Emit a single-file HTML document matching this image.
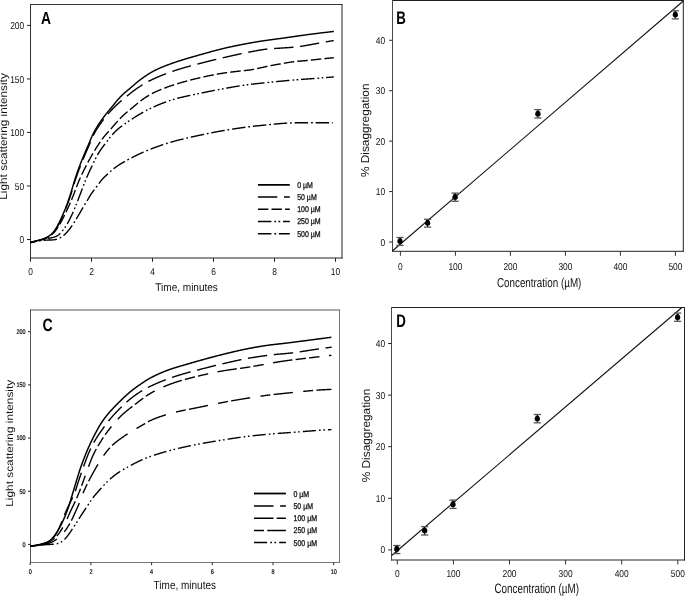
<!DOCTYPE html>
<html><head><meta charset="utf-8"><style>
html,body{margin:0;padding:0;background:#fff;}
svg{display:block;font-family:"Liberation Sans", sans-serif;filter:grayscale(100%);text-rendering:geometricPrecision;}
</style></head><body>
<svg width="685" height="596" viewBox="0 0 685 596">
<rect width="685" height="596" fill="#fff"/>
<line x1="30.5" y1="4.5" x2="342" y2="4.5" stroke="#3a3a3a" stroke-width="1" stroke-linecap="square"/>
<line x1="342" y1="4.5" x2="342" y2="258" stroke="#222" stroke-width="1" stroke-linecap="square"/>
<line x1="30.5" y1="258" x2="342" y2="258" stroke="#222" stroke-width="1" stroke-linecap="square"/>
<line x1="30.5" y1="4.5" x2="30.5" y2="258" stroke="#333" stroke-width="1" stroke-linecap="square"/>
<line x1="27" y1="239.5" x2="30.5" y2="239.5" stroke="#222" stroke-width="1" />
<text transform="translate(24.2 243.1) scale(0.84 1)" font-size="10.0" text-anchor="end" font-weight="normal" fill="#111" >0</text>
<line x1="27" y1="185.975" x2="30.5" y2="185.975" stroke="#222" stroke-width="1" />
<text transform="translate(24.2 189.575) scale(0.84 1)" font-size="10.0" text-anchor="end" font-weight="normal" fill="#111" >50</text>
<line x1="27" y1="132.45" x2="30.5" y2="132.45" stroke="#222" stroke-width="1" />
<text transform="translate(24.2 136.04999999999998) scale(0.84 1)" font-size="10.0" text-anchor="end" font-weight="normal" fill="#111" >100</text>
<line x1="27" y1="78.92500000000001" x2="30.5" y2="78.92500000000001" stroke="#222" stroke-width="1" />
<text transform="translate(24.2 82.525) scale(0.84 1)" font-size="10.0" text-anchor="end" font-weight="normal" fill="#111" >150</text>
<line x1="27" y1="25.400000000000006" x2="30.5" y2="25.400000000000006" stroke="#222" stroke-width="1" />
<text transform="translate(24.2 29.000000000000007) scale(0.84 1)" font-size="10.0" text-anchor="end" font-weight="normal" fill="#111" >200</text>
<line x1="30.5" y1="258" x2="30.5" y2="261.8" stroke="#222" stroke-width="1" />
<text transform="translate(30.5 275.3) scale(0.84 1)" font-size="10.0" text-anchor="middle" font-weight="normal" fill="#111" >0</text>
<line x1="91.5" y1="258" x2="91.5" y2="261.8" stroke="#222" stroke-width="1" />
<text transform="translate(91.5 275.3) scale(0.84 1)" font-size="10.0" text-anchor="middle" font-weight="normal" fill="#111" >2</text>
<line x1="152.5" y1="258" x2="152.5" y2="261.8" stroke="#222" stroke-width="1" />
<text transform="translate(152.5 275.3) scale(0.84 1)" font-size="10.0" text-anchor="middle" font-weight="normal" fill="#111" >4</text>
<line x1="213.5" y1="258" x2="213.5" y2="261.8" stroke="#222" stroke-width="1" />
<text transform="translate(213.5 275.3) scale(0.84 1)" font-size="10.0" text-anchor="middle" font-weight="normal" fill="#111" >6</text>
<line x1="274.5" y1="258" x2="274.5" y2="261.8" stroke="#222" stroke-width="1" />
<text transform="translate(274.5 275.3) scale(0.84 1)" font-size="10.0" text-anchor="middle" font-weight="normal" fill="#111" >8</text>
<line x1="335.5" y1="258" x2="335.5" y2="261.8" stroke="#222" stroke-width="1" />
<text transform="translate(335.5 275.3) scale(0.84 1)" font-size="10.0" text-anchor="middle" font-weight="normal" fill="#111" >10</text>
<text x="155.3" y="291.1" font-size="11.2" text-anchor="start" font-weight="normal" fill="#111" textLength="62.6" lengthAdjust="spacingAndGlyphs" >Time, minutes</text>
<text x="7.0" y="199.7" font-size="10.6" text-anchor="start" font-weight="normal" fill="#111" textLength="126.5" lengthAdjust="spacingAndGlyphs" transform="rotate(-90 7.0 199.7)" >Light scattering intensity</text>
<text x="41.0" y="23.8" font-size="17.5" text-anchor="start" font-weight="bold" fill="#000" textLength="10" lengthAdjust="spacingAndGlyphs" >A</text>
<line x1="257.9" y1="184.9" x2="289.8" y2="184.9" stroke="#000" stroke-width="1.8" />
<text x="297.2" y="187.8" font-size="8.4" text-anchor="start" font-weight="normal" fill="#111" textLength="15.7" lengthAdjust="spacingAndGlyphs" stroke="#111" stroke-width="0.3">0 µM</text>
<line x1="257.9" y1="197.1" x2="289.8" y2="197.1" stroke="#000" stroke-width="1.5" stroke-dasharray="19.4 6.7"/>
<text x="297.2" y="200.0" font-size="8.4" text-anchor="start" font-weight="normal" fill="#111" textLength="19.5" lengthAdjust="spacingAndGlyphs" stroke="#111" stroke-width="0.3">50 µM</text>
<line x1="257.9" y1="209.3" x2="289.8" y2="209.3" stroke="#000" stroke-width="1.5" stroke-dasharray="10.5 3.1"/>
<text x="297.2" y="212.20000000000002" font-size="8.4" text-anchor="start" font-weight="normal" fill="#111" textLength="23.5" lengthAdjust="spacingAndGlyphs" stroke="#111" stroke-width="0.3">100 µM</text>
<line x1="257.9" y1="221.4" x2="289.8" y2="221.4" stroke="#000" stroke-width="1.5" stroke-dasharray="13.5 3 1.7 2.4 1.7 2.8"/>
<text x="297.2" y="224.3" font-size="8.4" text-anchor="start" font-weight="normal" fill="#111" textLength="23.5" lengthAdjust="spacingAndGlyphs" stroke="#111" stroke-width="0.3">250 µM</text>
<line x1="257.9" y1="233.7" x2="289.8" y2="233.7" stroke="#000" stroke-width="1.5" stroke-dasharray="13.5 2.9 1.8 2.8"/>
<text x="297.2" y="236.6" font-size="8.4" text-anchor="start" font-weight="normal" fill="#111" textLength="23.5" lengthAdjust="spacingAndGlyphs" stroke="#111" stroke-width="0.3">500 µM</text>
<path d="M30.50,242.30 L31.73,241.99 L32.03,241.91 L32.36,241.83 L32.73,241.74 L33.12,241.64 L33.54,241.53 L33.98,241.42 L34.43,241.30 L34.90,241.19 L35.37,241.07 L35.84,240.95 L36.32,240.83 L36.80,240.70 L37.29,240.58 L37.77,240.46 L38.25,240.33 L38.74,240.20 L39.22,240.08 L39.70,239.94 L40.18,239.81 L40.66,239.67 L41.14,239.53 L41.62,239.39 L42.10,239.24 L42.57,239.08 L43.04,238.92 L43.51,238.75 L43.98,238.58 L44.44,238.39 L44.90,238.20 L45.36,238.01 L45.81,237.80 L46.26,237.58 L46.70,237.35 L47.14,237.12 L47.57,236.87 L48.00,236.62 L48.42,236.35 L48.83,236.08 L49.24,235.80 L49.64,235.50 L50.04,235.20 L50.42,234.89 L50.81,234.57 L51.18,234.25 L51.55,233.91 L51.91,233.57 L52.26,233.22 L52.61,232.86 L52.94,232.50 L53.27,232.12 L53.60,231.75 L53.91,231.36 L54.22,230.97 L54.52,230.57 L54.81,230.17 L55.10,229.76 L55.38,229.35 L55.65,228.93 L55.92,228.51 L56.18,228.09 L56.44,227.66 L56.69,227.23 L56.93,226.79 L57.18,226.36 L57.42,225.92 L57.65,225.48 L57.89,225.04 L58.12,224.60 L58.35,224.15 L58.58,223.71 L58.81,223.26 L59.04,222.82 L59.26,222.37 L59.48,221.92 L59.70,221.47 L59.92,221.02 L60.14,220.57 L60.36,220.12 L60.57,219.67 L60.78,219.22 L60.99,218.77 L61.20,218.31 L61.41,217.86 L61.62,217.40 L61.82,216.95 L62.03,216.49 L62.23,216.03 L62.43,215.58 L62.63,215.12 L62.83,214.66 L63.03,214.20 L63.23,213.74 L63.43,213.28 L63.62,212.82 L63.82,212.36 L64.01,211.90 L64.20,211.44 L64.39,210.98 L64.58,210.52 L64.77,210.05 L64.96,209.59 L65.15,209.13 L65.33,208.66 L65.52,208.20 L65.70,207.73 L65.88,207.27 L66.07,206.80 L66.25,206.33 L66.42,205.87 L66.60,205.40 L66.78,204.93 L66.95,204.46 L67.13,204.00 L67.30,203.53 L67.47,203.06 L67.64,202.59 L67.81,202.12 L67.98,201.65 L68.15,201.17 L68.31,200.70 L68.48,200.23 L68.64,199.76 L68.80,199.28 L68.96,198.81 L69.12,198.34 L69.28,197.86 L69.44,197.39 L69.60,196.91 L69.75,196.44 L69.91,195.96 L70.06,195.49 L70.21,195.01 L70.36,194.53 L70.51,194.06 L70.66,193.58 L70.81,193.10 L70.95,192.62 L71.10,192.14 L71.24,191.67 L71.38,191.19 L71.53,190.71 L71.67,190.23 L71.81,189.75 L71.95,189.27 L72.09,188.79 L72.23,188.31 L72.37,187.83 L72.51,187.35 L72.65,186.87 L72.79,186.39 L72.93,185.91 L73.07,185.43 L73.21,184.95 L73.35,184.47 L73.50,183.99 L73.64,183.51 L73.78,183.03 L73.93,182.55 L74.07,182.08 L74.22,181.60 L74.37,181.12 L74.52,180.64 L74.67,180.17 L74.82,179.69 L74.97,179.21 L75.12,178.74 L75.28,178.26 L75.43,177.79 L75.59,177.31 L75.75,176.84 L75.91,176.36 L76.07,175.89 L76.23,175.42 L76.39,174.94 L76.55,174.47 L76.71,174.00 L76.88,173.53 L77.04,173.05 L77.21,172.58 L77.38,172.11 L77.54,171.64 L77.71,171.17 L77.88,170.70 L78.05,170.23 L78.22,169.76 L78.39,169.29 L78.56,168.82 L78.73,168.35 L78.91,167.88 L79.08,167.41 L79.26,166.94 L79.43,166.47 L79.61,166.01 L79.78,165.54 L79.96,165.07 L80.14,164.60 L80.32,164.14 L80.50,163.67 L80.68,163.21 L80.86,162.74 L81.05,162.27 L81.23,161.81 L81.42,161.34 L81.60,160.88 L81.79,160.42 L81.97,159.95 L82.16,159.49 L82.35,159.03 L82.54,158.56 L82.73,158.10 L82.92,157.64 L83.11,157.18 L83.30,156.72 L83.50,156.25 L83.69,155.79 L83.88,155.33 L84.08,154.87 L84.27,154.41 L84.46,153.95 L84.66,153.49 L84.85,153.03 L85.05,152.57 L85.24,152.11 L85.44,151.65 L85.64,151.19 L85.83,150.73 L86.03,150.27 L86.23,149.81 L86.43,149.35 L86.63,148.89 L86.82,148.43 L87.02,147.97 L87.22,147.51 L87.42,147.06 L87.62,146.60 L87.82,146.14 L88.02,145.68 L88.21,145.22 L88.41,144.76 L88.61,144.30 L88.80,143.84 L89.00,143.38 L89.19,142.92 L89.38,142.46 L89.58,142.00 L89.77,141.53 L89.96,141.07 L90.15,140.61 L90.34,140.15 L90.53,139.68 L90.72,139.22 L90.91,138.76 L91.10,138.30 L91.30,137.84 L91.49,137.38 L91.69,136.92 L91.90,136.47 L92.10,136.01 L92.31,135.56 L92.52,135.10 L92.74,134.65 L92.96,134.20 L93.18,133.75 L93.40,133.31 L93.63,132.86 L93.86,132.42 L94.09,131.98 L94.33,131.54 L94.57,131.10 L94.81,130.66 L95.05,130.22 L95.29,129.79 L95.54,129.35 L95.79,128.92 L96.04,128.49 L96.30,128.06 L96.55,127.63 L96.81,127.20 L97.07,126.77 L97.33,126.35 L97.60,125.92 L97.86,125.50 L98.13,125.08 L98.40,124.65 L98.67,124.23 L98.94,123.82 L99.22,123.40 L99.50,122.98 L99.77,122.57 L100.06,122.16 L100.34,121.74 L100.62,121.33 L100.91,120.92 L101.20,120.52 L101.49,120.11 L101.78,119.70 L102.08,119.30 L102.37,118.89 L102.67,118.49 L102.96,118.09 L103.26,117.69 L103.56,117.29 L103.86,116.89 L104.17,116.49 L104.47,116.10 L104.78,115.70 L105.08,115.30 L105.39,114.91 L105.70,114.51 L106.00,114.12 L106.31,113.73 L106.63,113.34 L106.94,112.95 L107.25,112.56 L107.57,112.17 L107.88,111.78 L108.20,111.39 L108.52,111.01 L108.83,110.62 L109.15,110.24 L109.47,109.85 L109.79,109.47 L110.11,109.08 L110.43,108.70 L110.75,108.31 L111.07,107.93 L111.39,107.54 L111.71,107.16 L112.03,106.77 L112.34,106.39 L112.66,106.00 L112.98,105.62 L113.30,105.23 L113.61,104.84 L113.93,104.45 L114.24,104.07 L114.56,103.68 L114.88,103.29 L115.19,102.91 L115.51,102.52 L115.83,102.13 L116.15,101.75 L116.47,101.36 L116.79,100.98 L117.11,100.60 L117.43,100.21 L117.76,99.83 L118.08,99.46 L118.41,99.08 L118.74,98.70 L119.07,98.33 L119.41,97.96 L119.75,97.59 L120.09,97.23 L120.43,96.87 L120.78,96.51 L121.13,96.15 L121.48,95.80 L121.84,95.45 L122.20,95.10 L122.56,94.76 L122.92,94.41 L123.29,94.07 L123.66,93.74 L124.03,93.40 L124.41,93.07 L124.78,92.74 L125.16,92.41 L125.54,92.09 L125.92,91.76 L126.30,91.44 L126.68,91.12 L127.06,90.79 L127.45,90.47 L127.83,90.15 L128.21,89.83 L128.60,89.51 L128.98,89.19 L129.36,88.87 L129.74,88.54 L130.12,88.22 L130.51,87.90 L130.89,87.57 L131.27,87.25 L131.65,86.92 L132.02,86.60 L132.40,86.27 L132.78,85.94 L133.16,85.62 L133.54,85.29 L133.92,84.96 L134.30,84.64 L134.67,84.31 L135.05,83.98 L135.43,83.66 L135.81,83.34 L136.20,83.01 L136.58,82.69 L136.96,82.37 L137.35,82.05 L137.73,81.74 L138.12,81.42 L138.51,81.11 L138.90,80.80 L139.30,80.49 L139.69,80.18 L140.09,79.88 L140.49,79.58 L140.89,79.28 L141.29,78.98 L141.69,78.68 L142.10,78.39 L142.50,78.10 L142.91,77.81 L143.32,77.52 L143.73,77.24 L144.14,76.95 L144.55,76.67 L144.96,76.39 L145.38,76.11 L145.79,75.83 L146.21,75.55 L146.63,75.27 L147.04,75.00 L147.46,74.73 L147.88,74.46 L148.31,74.19 L148.73,73.92 L149.15,73.66 L149.58,73.40 L150.01,73.14 L150.44,72.88 L150.87,72.63 L151.30,72.37 L151.73,72.12 L152.16,71.88 L152.60,71.63 L153.04,71.39 L153.48,71.15 L153.92,70.92 L154.36,70.68 L154.80,70.45 L155.25,70.23 L155.70,70.00 L156.14,69.78 L156.59,69.56 L157.04,69.35 L157.49,69.13 L157.95,68.92 L158.40,68.71 L158.86,68.51 L159.31,68.30 L159.77,68.10 L160.23,67.90 L160.69,67.70 L161.15,67.51 L161.61,67.31 L162.07,67.12 L162.53,66.93 L162.99,66.74 L163.46,66.55 L163.92,66.37 L164.39,66.18 L164.85,66.00 L165.32,65.82 L165.78,65.64 L166.25,65.46 L166.72,65.28 L167.19,65.10 L167.65,64.93 L168.12,64.75 L168.59,64.58 L169.06,64.40 L169.53,64.23 L170.00,64.06 L170.47,63.89 L170.94,63.72 L171.41,63.55 L171.88,63.38 L172.35,63.22 L172.82,63.05 L173.30,62.89 L173.77,62.73 L174.24,62.56 L174.72,62.40 L175.19,62.24 L175.66,62.08 L176.14,61.93 L176.61,61.77 L177.09,61.61 L177.56,61.46 L178.04,61.30 L178.51,61.15 L178.99,60.99 L179.46,60.84 L179.94,60.69 L180.42,60.54 L180.89,60.39 L181.37,60.24 L181.85,60.09 L182.33,59.94 L182.80,59.79 L183.28,59.64 L183.76,59.49 L184.24,59.35 L184.71,59.20 L185.19,59.05 L185.67,58.91 L186.15,58.76 L186.63,58.62 L187.11,58.47 L187.59,58.33 L188.06,58.19 L188.54,58.05 L189.02,57.91 L189.50,57.76 L189.98,57.62 L190.46,57.49 L190.94,57.35 L191.42,57.21 L191.91,57.07 L192.39,56.93 L192.87,56.80 L193.35,56.66 L193.83,56.52 L194.31,56.39 L194.79,56.25 L195.27,56.12 L195.75,55.98 L196.24,55.85 L196.72,55.71 L197.20,55.58 L197.68,55.44 L198.16,55.31 L198.64,55.17 L199.13,55.04 L199.61,54.91 L200.09,54.77 L200.57,54.64 L201.05,54.50 L201.53,54.37 L202.01,54.23 L202.50,54.09 L202.98,53.96 L203.46,53.82 L203.94,53.69 L204.42,53.55 L204.90,53.42 L205.38,53.28 L205.86,53.14 L206.34,53.01 L206.83,52.87 L207.31,52.74 L207.79,52.60 L208.27,52.47 L208.75,52.33 L209.23,52.19 L209.71,52.06 L210.20,51.93 L210.68,51.79 L211.16,51.66 L211.64,51.52 L212.12,51.39 L212.60,51.26 L213.09,51.13 L213.57,50.99 L214.05,50.86 L214.53,50.73 L215.02,50.60 L215.50,50.47 L215.98,50.34 L216.47,50.21 L216.95,50.09 L217.43,49.96 L217.92,49.83 L218.40,49.71 L218.89,49.58 L219.37,49.46 L219.85,49.34 L220.34,49.22 L220.82,49.10 L221.31,48.98 L221.80,48.86 L222.28,48.74 L222.77,48.62 L223.25,48.51 L223.74,48.39 L224.23,48.28 L224.71,48.16 L225.20,48.05 L225.69,47.94 L226.18,47.83 L226.66,47.72 L227.15,47.61 L227.64,47.50 L228.13,47.39 L228.62,47.28 L229.10,47.17 L229.59,47.07 L230.08,46.96 L230.57,46.85 L231.06,46.75 L231.55,46.64 L232.04,46.54 L232.52,46.43 L233.01,46.33 L233.50,46.23 L233.99,46.13 L234.48,46.02 L234.97,45.92 L235.46,45.82 L235.95,45.72 L236.44,45.62 L236.93,45.52 L237.42,45.42 L237.91,45.32 L238.40,45.23 L238.89,45.13 L239.38,45.03 L239.87,44.93 L240.36,44.84 L240.85,44.74 L241.35,44.65 L241.84,44.55 L242.33,44.46 L242.82,44.36 L243.31,44.27 L243.80,44.18 L244.29,44.08 L244.78,43.99 L245.27,43.90 L245.77,43.80 L246.26,43.71 L246.75,43.62 L247.24,43.53 L247.73,43.44 L248.22,43.35 L248.72,43.26 L249.21,43.17 L249.70,43.08 L250.19,42.99 L250.68,42.91 L251.18,42.82 L251.67,42.73 L252.16,42.64 L252.65,42.56 L253.15,42.47 L253.64,42.39 L254.13,42.30 L254.62,42.22 L255.12,42.13 L255.61,42.05 L256.10,41.97 L256.60,41.88 L257.09,41.80 L257.58,41.72 L258.08,41.64 L258.57,41.56 L259.06,41.48 L259.56,41.40 L260.05,41.32 L260.54,41.24 L261.04,41.17 L261.53,41.09 L262.03,41.01 L262.52,40.94 L263.02,40.86 L263.51,40.79 L264.00,40.71 L264.50,40.64 L264.99,40.57 L265.49,40.49 L265.98,40.42 L266.48,40.35 L266.97,40.28 L267.47,40.21 L267.96,40.14 L268.46,40.08 L268.95,40.01 L269.45,39.94 L269.94,39.87 L270.44,39.81 L270.94,39.74 L271.43,39.67 L271.93,39.61 L272.42,39.54 L272.92,39.48 L273.41,39.41 L273.91,39.35 L274.41,39.28 L274.90,39.22 L275.40,39.15 L275.89,39.09 L276.39,39.02 L276.88,38.96 L277.38,38.89 L277.88,38.82 L278.37,38.76 L278.87,38.69 L279.36,38.63 L279.86,38.56 L280.35,38.49 L280.85,38.43 L281.34,38.36 L281.84,38.29 L282.34,38.22 L282.83,38.15 L283.33,38.08 L283.82,38.01 L284.32,37.94 L284.81,37.87 L285.31,37.80 L285.80,37.73 L286.30,37.66 L286.79,37.59 L287.29,37.52 L287.78,37.45 L288.28,37.38 L288.77,37.31 L289.27,37.23 L289.76,37.16 L290.25,37.09 L290.75,37.02 L291.24,36.95 L291.74,36.87 L292.23,36.80 L292.73,36.73 L293.22,36.66 L293.72,36.59 L294.21,36.51 L294.71,36.44 L295.20,36.37 L295.70,36.30 L296.19,36.23 L296.69,36.16 L297.18,36.08 L297.68,36.01 L298.17,35.94 L298.67,35.87 L299.16,35.80 L299.66,35.73 L300.15,35.66 L300.65,35.59 L301.14,35.52 L301.64,35.45 L302.13,35.38 L302.63,35.32 L303.12,35.25 L303.62,35.18 L304.11,35.11 L304.61,35.05 L305.11,34.98 L305.60,34.91 L306.10,34.85 L306.59,34.78 L307.09,34.72 L307.58,34.65 L308.08,34.59 L308.58,34.52 L309.07,34.46 L309.57,34.39 L310.06,34.33 L310.56,34.26 L311.05,34.20 L311.55,34.13 L312.05,34.07 L312.54,34.01 L313.04,33.94 L313.53,33.88 L314.03,33.82 L314.53,33.75 L315.02,33.69 L315.52,33.63 L316.01,33.57 L316.51,33.50 L317.01,33.44 L317.50,33.38 L318.00,33.32 L318.49,33.25 L318.99,33.19 L319.49,33.13 L319.98,33.07 L320.48,33.01 L320.98,32.95 L321.47,32.89 L321.97,32.83 L322.46,32.77 L322.96,32.71 L323.46,32.65 L323.95,32.59 L324.45,32.53 L324.95,32.47 L325.44,32.41 L325.94,32.35 L326.44,32.29 L326.93,32.23 L327.43,32.17 L327.92,32.11 L328.42,32.06 L328.91,32.00 L329.40,31.94 L329.89,31.88 L330.37,31.83 L330.85,31.77 L331.31,31.72 L331.76,31.67 L332.19,31.62 L332.59,31.57 L332.97,31.53 L333.31,31.49 L333.62,31.46 L333.89,31.43" fill="none" stroke="#000" stroke-width="1.45"/>
<path d="M30.50,242.50 L31.73,242.19 L32.03,242.11 L32.36,242.03 L32.73,241.94 L33.12,241.84 L33.54,241.73 L33.98,241.62 L34.43,241.50 L34.90,241.39 L35.37,241.27 L35.84,241.15 L36.32,241.03 L36.80,240.90 L37.29,240.78 L37.77,240.66 L38.25,240.53 L38.74,240.40 L39.22,240.28 L39.70,240.14 L40.18,240.01 L40.66,239.87 L41.14,239.73 L41.62,239.59 L42.10,239.44 L42.57,239.28 L43.04,239.12 L43.51,238.96 L43.98,238.78 L44.45,238.60 L44.91,238.42 L45.36,238.22 L45.82,238.01 L46.27,237.80 L46.71,237.58 L47.15,237.35 L47.59,237.11 L48.02,236.86 L48.44,236.60 L48.86,236.33 L49.28,236.05 L49.68,235.77 L50.08,235.48 L50.48,235.17 L50.86,234.86 L51.25,234.54 L51.62,234.21 L51.99,233.88 L52.35,233.53 L52.70,233.18 L53.04,232.83 L53.38,232.46 L53.71,232.09 L54.03,231.71 L54.35,231.33 L54.66,230.93 L54.96,230.54 L55.25,230.14 L55.54,229.73 L55.82,229.32 L56.09,228.90 L56.36,228.48 L56.63,228.06 L56.88,227.63 L57.14,227.20 L57.39,226.77 L57.64,226.33 L57.88,225.90 L58.12,225.46 L58.36,225.02 L58.60,224.58 L58.83,224.14 L59.06,223.69 L59.29,223.25 L59.52,222.80 L59.74,222.36 L59.96,221.91 L60.18,221.46 L60.40,221.01 L60.61,220.56 L60.83,220.11 L61.04,219.66 L61.25,219.20 L61.46,218.75 L61.67,218.29 L61.87,217.84 L62.08,217.38 L62.28,216.92 L62.48,216.47 L62.68,216.01 L62.88,215.55 L63.08,215.09 L63.28,214.63 L63.47,214.17 L63.67,213.71 L63.86,213.25 L64.06,212.79 L64.25,212.33 L64.44,211.87 L64.63,211.40 L64.82,210.94 L65.01,210.48 L65.19,210.01 L65.38,209.55 L65.56,209.09 L65.75,208.62 L65.93,208.16 L66.11,207.69 L66.30,207.22 L66.48,206.76 L66.66,206.29 L66.84,205.82 L67.01,205.36 L67.19,204.89 L67.37,204.42 L67.54,203.95 L67.72,203.49 L67.89,203.02 L68.07,202.55 L68.24,202.08 L68.41,201.61 L68.58,201.14 L68.75,200.67 L68.92,200.20 L69.09,199.73 L69.25,199.26 L69.42,198.78 L69.58,198.31 L69.75,197.84 L69.91,197.37 L70.07,196.89 L70.23,196.42 L70.39,195.95 L70.54,195.47 L70.70,195.00 L70.86,194.52 L71.01,194.04 L71.16,193.57 L71.31,193.09 L71.46,192.61 L71.61,192.14 L71.76,191.66 L71.91,191.18 L72.05,190.70 L72.20,190.22 L72.34,189.75 L72.49,189.27 L72.63,188.79 L72.77,188.31 L72.92,187.83 L73.06,187.35 L73.20,186.87 L73.35,186.39 L73.49,185.92 L73.63,185.44 L73.78,184.96 L73.92,184.48 L74.07,184.00 L74.22,183.52 L74.37,183.05 L74.51,182.57 L74.66,182.09 L74.82,181.61 L74.97,181.14 L75.12,180.66 L75.28,180.19 L75.43,179.71 L75.59,179.24 L75.75,178.76 L75.91,178.29 L76.07,177.82 L76.23,177.34 L76.39,176.87 L76.56,176.40 L76.72,175.93 L76.89,175.46 L77.06,174.98 L77.22,174.51 L77.39,174.04 L77.56,173.57 L77.73,173.10 L77.90,172.63 L78.07,172.16 L78.24,171.69 L78.42,171.22 L78.59,170.75 L78.76,170.29 L78.94,169.82 L79.12,169.35 L79.29,168.88 L79.47,168.41 L79.65,167.95 L79.82,167.48 L80.00,167.01 L80.18,166.55 L80.36,166.08 L80.54,165.61 L80.73,165.15 L80.91,164.68 L81.09,164.22 L81.28,163.75 L81.46,163.29 L81.65,162.82 L81.83,162.36 L82.02,161.90 L82.21,161.43 L82.40,160.97 L82.59,160.51 L82.78,160.04 L82.97,159.58 L83.16,159.12 L83.35,158.66 L83.54,158.20 L83.74,157.74 L83.93,157.27 L84.12,156.81 L84.32,156.35 L84.51,155.89 L84.71,155.43 L84.90,154.97 L85.10,154.51 L85.29,154.05 L85.49,153.59 L85.68,153.13 L85.88,152.67 L86.08,152.21 L86.27,151.75 L86.47,151.29 L86.67,150.83 L86.87,150.37 L87.07,149.92 L87.27,149.46 L87.46,149.00 L87.66,148.54 L87.86,148.08 L88.06,147.62 L88.26,147.16 L88.46,146.70 L88.66,146.25 L88.86,145.79 L89.05,145.33 L89.25,144.87 L89.45,144.41 L89.64,143.95 L89.84,143.49 L90.03,143.03 L90.22,142.56 L90.41,142.10 L90.61,141.64 L90.80,141.18 L90.99,140.72 L91.18,140.25 L91.37,139.79 L91.56,139.33 L91.76,138.87 L91.95,138.41 L92.15,137.95 L92.35,137.49 L92.55,137.04 L92.76,136.58 L92.97,136.13 L93.18,135.68 L93.40,135.23 L93.62,134.78 L93.84,134.33 L94.07,133.89 L94.31,133.45 L94.54,133.01 L94.78,132.57 L95.03,132.14 L95.28,131.70 L95.53,131.27 L95.79,130.84 L96.05,130.42 L96.31,129.99 L96.57,129.57 L96.84,129.14 L97.11,128.72 L97.38,128.30 L97.66,127.89 L97.93,127.47 L98.21,127.05 L98.49,126.64 L98.77,126.22 L99.05,125.81 L99.33,125.40 L99.61,124.98 L99.90,124.57 L100.18,124.16 L100.47,123.75 L100.75,123.34 L101.04,122.93 L101.33,122.52 L101.62,122.11 L101.91,121.71 L102.20,121.30 L102.49,120.90 L102.79,120.49 L103.08,120.09 L103.38,119.69 L103.68,119.29 L103.98,118.89 L104.29,118.50 L104.59,118.10 L104.90,117.71 L105.21,117.32 L105.53,116.92 L105.84,116.54 L106.16,116.15 L106.47,115.76 L106.79,115.38 L107.11,115.00 L107.44,114.61 L107.76,114.23 L108.09,113.86 L108.42,113.48 L108.75,113.10 L109.08,112.73 L109.41,112.36 L109.75,111.99 L110.09,111.62 L110.42,111.25 L110.76,110.88 L111.10,110.52 L111.45,110.15 L111.79,109.79 L112.14,109.43 L112.48,109.07 L112.83,108.71 L113.18,108.35 L113.53,108.00 L113.88,107.64 L114.24,107.29 L114.59,106.94 L114.95,106.59 L115.31,106.24 L115.67,105.89 L116.03,105.54 L116.39,105.20 L116.75,104.86 L117.12,104.51 L117.48,104.17 L117.85,103.84 L118.22,103.50 L118.59,103.16 L118.97,102.83 L119.34,102.50 L119.71,102.17 L120.09,101.84 L120.47,101.51 L120.85,101.19 L121.23,100.86 L121.61,100.54 L121.99,100.22 L122.38,99.90 L122.76,99.58 L123.14,99.26 L123.53,98.94 L123.92,98.62 L124.30,98.30 L124.69,97.98 L125.07,97.67 L125.46,97.35 L125.85,97.03 L126.23,96.72 L126.62,96.40 L127.01,96.08 L127.39,95.77 L127.78,95.45 L128.17,95.13 L128.56,94.82 L128.94,94.50 L129.33,94.19 L129.72,93.87 L130.11,93.56 L130.50,93.25 L130.89,92.94 L131.28,92.63 L131.68,92.32 L132.07,92.01 L132.47,91.70 L132.86,91.40 L133.26,91.10 L133.66,90.79 L134.06,90.50 L134.46,90.20 L134.87,89.90 L135.27,89.61 L135.68,89.32 L136.08,89.03 L136.49,88.74 L136.90,88.46 L137.32,88.17 L137.73,87.89 L138.14,87.61 L138.56,87.34 L138.98,87.06 L139.39,86.79 L139.81,86.51 L140.23,86.24 L140.65,85.97 L141.08,85.71 L141.50,85.44 L141.92,85.17 L142.35,84.91 L142.77,84.65 L143.20,84.39 L143.63,84.13 L144.06,83.88 L144.49,83.62 L144.92,83.37 L145.35,83.12 L145.79,82.87 L146.22,82.63 L146.66,82.38 L147.10,82.14 L147.54,81.90 L147.98,81.67 L148.42,81.43 L148.86,81.20 L149.31,80.97 L149.75,80.74 L150.20,80.52 L150.64,80.29 L151.09,80.07 L151.54,79.85 L151.99,79.64 L152.44,79.42 L152.90,79.21 L153.35,79.00 L153.80,78.79 L154.26,78.58 L154.71,78.37 L155.17,78.16 L155.62,77.96 L156.08,77.76 L156.54,77.55 L156.99,77.35 L157.45,77.15 L157.91,76.96 L158.37,76.76 L158.83,76.56 L159.29,76.37 L159.75,76.18 L160.22,75.99 L160.68,75.80 L161.14,75.61 L161.60,75.42 L162.07,75.23 L162.53,75.05 L163.00,74.86 L163.46,74.68 L163.93,74.50 L164.40,74.32 L164.86,74.14 L165.33,73.96 L165.80,73.78 L166.26,73.61 L166.73,73.43 L167.20,73.26 L167.67,73.09 L168.14,72.92 L168.61,72.75 L169.08,72.58 L169.55,72.41 L170.02,72.24 L170.49,72.07 L170.97,71.91 L171.44,71.74 L171.91,71.58 L172.38,71.42 L172.86,71.25 L173.33,71.09 L173.80,70.93 L174.28,70.78 L174.75,70.62 L175.23,70.46 L175.70,70.31 L176.18,70.15 L176.65,70.00 L177.13,69.85 L177.61,69.69 L178.08,69.54 L178.56,69.39 L179.04,69.24 L179.51,69.10 L179.99,68.95 L180.47,68.80 L180.95,68.66 L181.43,68.52 L181.91,68.37 L182.39,68.23 L182.87,68.09 L183.35,67.95 L183.83,67.81 L184.31,67.67 L184.79,67.53 L185.27,67.39 L185.75,67.26 L186.23,67.12 L186.71,66.98 L187.19,66.85 L187.67,66.71 L188.15,66.58 L188.64,66.45 L189.12,66.31 L189.60,66.18 L190.08,66.05 L190.57,65.92 L191.05,65.79 L191.53,65.65 L192.01,65.52 L192.50,65.39 L192.98,65.26 L193.46,65.14 L193.94,65.01 L194.43,64.88 L194.91,64.75 L195.39,64.62 L195.88,64.49 L196.36,64.36 L196.84,64.24 L197.33,64.11 L197.81,63.98 L198.29,63.85 L198.78,63.73 L199.26,63.60 L199.75,63.47 L200.23,63.35 L200.71,63.22 L201.20,63.09 L201.68,62.97 L202.16,62.84 L202.65,62.72 L203.13,62.59 L203.62,62.47 L204.10,62.34 L204.59,62.22 L205.07,62.10 L205.56,61.98 L206.04,61.85 L206.53,61.73 L207.01,61.61 L207.50,61.49 L207.98,61.37 L208.47,61.25 L208.95,61.13 L209.44,61.01 L209.92,60.89 L210.41,60.77 L210.89,60.65 L211.38,60.53 L211.86,60.41 L212.35,60.29 L212.84,60.18 L213.32,60.06 L213.81,59.94 L214.30,59.83 L214.78,59.71 L215.27,59.59 L215.75,59.48 L216.24,59.36 L216.73,59.25 L217.21,59.13 L217.70,59.02 L218.19,58.90 L218.67,58.79 L219.16,58.67 L219.65,58.56 L220.13,58.45 L220.62,58.33 L221.11,58.22 L221.60,58.11 L222.08,57.99 L222.57,57.88 L223.06,57.77 L223.54,57.65 L224.03,57.54 L224.52,57.43 L225.00,57.32 L225.49,57.20 L225.98,57.09 L226.47,56.98 L226.95,56.87 L227.44,56.75 L227.93,56.64 L228.42,56.53 L228.90,56.42 L229.39,56.31 L229.88,56.19 L230.36,56.08 L230.85,55.97 L231.34,55.86 L231.83,55.75 L232.32,55.64 L232.80,55.53 L233.29,55.42 L233.78,55.31 L234.27,55.20 L234.75,55.09 L235.24,54.98 L235.73,54.88 L236.22,54.77 L236.71,54.66 L237.20,54.55 L237.68,54.45 L238.17,54.34 L238.66,54.24 L239.15,54.13 L239.64,54.03 L240.13,53.92 L240.62,53.82 L241.11,53.72 L241.60,53.61 L242.09,53.51 L242.58,53.41 L243.07,53.31 L243.56,53.21 L244.05,53.11 L244.54,53.02 L245.03,52.92 L245.52,52.82 L246.01,52.72 L246.50,52.63 L246.99,52.53 L247.48,52.44 L247.97,52.34 L248.46,52.24 L248.95,52.15 L249.44,52.05 L249.93,51.96 L250.42,51.86 L250.91,51.76 L251.41,51.67 L251.90,51.57 L252.39,51.48 L252.88,51.38 L253.37,51.28 L253.86,51.19 L254.35,51.10 L254.84,51.00 L255.33,50.91 L255.82,50.82 L256.31,50.72 L256.81,50.63 L257.30,50.54 L257.79,50.45 L258.28,50.36 L258.77,50.28 L259.27,50.19 L259.76,50.11 L260.25,50.03 L260.75,49.95 L261.24,49.87 L261.73,49.79 L262.23,49.71 L262.72,49.64 L263.22,49.57 L263.71,49.50 L264.21,49.43 L264.70,49.37 L265.20,49.30 L265.70,49.24 L266.19,49.18 L266.69,49.13 L267.19,49.08 L267.68,49.02 L268.18,48.98 L268.68,48.93 L269.18,48.88 L269.67,48.84 L270.17,48.80 L270.67,48.76 L271.17,48.72 L271.67,48.69 L272.17,48.65 L272.67,48.62 L273.16,48.58 L273.66,48.55 L274.16,48.52 L274.66,48.49 L275.16,48.46 L275.66,48.42 L276.16,48.39 L276.66,48.36 L277.16,48.33 L277.66,48.30 L278.15,48.27 L278.65,48.24 L279.15,48.21 L279.65,48.18 L280.15,48.14 L280.65,48.11 L281.15,48.08 L281.65,48.05 L282.15,48.01 L282.64,47.98 L283.14,47.95 L283.64,47.92 L284.14,47.88 L284.64,47.85 L285.14,47.82 L285.64,47.78 L286.14,47.75 L286.64,47.72 L287.14,47.68 L287.63,47.65 L288.13,47.61 L288.63,47.58 L289.13,47.54 L289.63,47.50 L290.13,47.46 L290.63,47.43 L291.12,47.38 L291.62,47.34 L292.12,47.30 L292.62,47.26 L293.12,47.21 L293.61,47.17 L294.11,47.12 L294.61,47.07 L295.11,47.02 L295.60,46.96 L296.10,46.91 L296.60,46.86 L297.09,46.80 L297.59,46.74 L298.09,46.68 L298.58,46.62 L299.08,46.56 L299.57,46.49 L300.07,46.42 L300.57,46.36 L301.06,46.29 L301.56,46.21 L302.05,46.14 L302.54,46.07 L303.04,45.99 L303.53,45.91 L304.03,45.83 L304.52,45.75 L305.01,45.67 L305.50,45.59 L306.00,45.50 L306.49,45.41 L306.98,45.33 L307.47,45.24 L307.97,45.15 L308.46,45.06 L308.95,44.97 L309.44,44.88 L309.93,44.79 L310.43,44.70 L310.92,44.61 L311.41,44.51 L311.90,44.42 L312.39,44.33 L312.88,44.24 L313.37,44.14 L313.87,44.05 L314.36,43.96 L314.85,43.87 L315.34,43.78 L315.83,43.69 L316.32,43.60 L316.82,43.51 L317.31,43.42 L317.80,43.33 L318.29,43.24 L318.78,43.15 L319.28,43.07 L319.77,42.98 L320.26,42.89 L320.75,42.80 L321.25,42.72 L321.74,42.63 L322.23,42.54 L322.72,42.46 L323.21,42.37 L323.71,42.28 L324.20,42.20 L324.69,42.11 L325.18,42.02 L325.68,41.94 L326.17,41.85 L326.66,41.76 L327.15,41.68 L327.65,41.59 L328.14,41.51 L328.63,41.42 L329.12,41.33 L329.60,41.25 L330.08,41.16 L330.56,41.08 L331.02,41.00 L331.48,40.92 L331.91,40.84 L332.33,40.77 L332.71,40.70 L333.07,40.64 L333.39,40.58 L333.68,40.53" fill="none" stroke="#000" stroke-width="1.4" stroke-dasharray="19.4 6.7" stroke-dashoffset="0"/>
<path d="M30.50,242.70 L31.73,242.39 L32.03,242.31 L32.36,242.23 L32.73,242.14 L33.12,242.04 L33.54,241.93 L33.98,241.82 L34.43,241.70 L34.90,241.59 L35.37,241.47 L35.84,241.35 L36.32,241.23 L36.80,241.10 L37.29,240.98 L37.77,240.86 L38.25,240.73 L38.74,240.60 L39.22,240.47 L39.70,240.34 L40.18,240.21 L40.66,240.07 L41.14,239.93 L41.62,239.79 L42.10,239.64 L42.57,239.49 L43.05,239.33 L43.52,239.17 L43.99,239.00 L44.45,238.82 L44.92,238.64 L45.38,238.45 L45.84,238.25 L46.29,238.04 L46.74,237.83 L47.18,237.61 L47.63,237.38 L48.06,237.14 L48.49,236.89 L48.92,236.64 L49.34,236.37 L49.76,236.10 L50.17,235.82 L50.57,235.53 L50.97,235.23 L51.36,234.92 L51.75,234.61 L52.12,234.28 L52.49,233.95 L52.86,233.61 L53.22,233.27 L53.57,232.91 L53.91,232.55 L54.24,232.19 L54.57,231.81 L54.90,231.43 L55.21,231.05 L55.52,230.66 L55.82,230.26 L56.12,229.86 L56.41,229.46 L56.70,229.05 L56.98,228.64 L57.26,228.22 L57.53,227.81 L57.81,227.39 L58.07,226.96 L58.34,226.54 L58.60,226.12 L58.87,225.69 L59.12,225.26 L59.38,224.84 L59.64,224.41 L59.89,223.97 L60.14,223.54 L60.39,223.11 L60.64,222.67 L60.88,222.24 L61.13,221.80 L61.37,221.36 L61.61,220.93 L61.85,220.49 L62.08,220.05 L62.32,219.60 L62.55,219.16 L62.78,218.72 L63.01,218.27 L63.23,217.83 L63.46,217.38 L63.68,216.93 L63.91,216.49 L64.13,216.04 L64.35,215.59 L64.56,215.14 L64.78,214.69 L65.00,214.24 L65.21,213.79 L65.43,213.33 L65.64,212.88 L65.85,212.43 L66.07,211.98 L66.28,211.53 L66.49,211.07 L66.70,210.62 L66.92,210.17 L67.13,209.71 L67.34,209.26 L67.55,208.81 L67.76,208.35 L67.97,207.90 L68.18,207.45 L68.39,206.99 L68.60,206.54 L68.81,206.08 L69.01,205.63 L69.22,205.17 L69.43,204.72 L69.63,204.26 L69.83,203.81 L70.04,203.35 L70.24,202.89 L70.44,202.43 L70.64,201.97 L70.84,201.51 L71.03,201.05 L71.23,200.59 L71.42,200.13 L71.61,199.67 L71.80,199.21 L71.99,198.75 L72.18,198.28 L72.36,197.82 L72.55,197.35 L72.73,196.89 L72.92,196.42 L73.10,195.96 L73.28,195.49 L73.46,195.03 L73.64,194.56 L73.82,194.09 L74.00,193.63 L74.18,193.16 L74.36,192.69 L74.54,192.23 L74.71,191.76 L74.89,191.29 L75.07,190.82 L75.25,190.36 L75.43,189.89 L75.61,189.42 L75.78,188.96 L75.96,188.49 L76.14,188.02 L76.32,187.55 L76.50,187.09 L76.67,186.62 L76.85,186.15 L77.03,185.69 L77.21,185.22 L77.39,184.75 L77.57,184.29 L77.75,183.82 L77.93,183.35 L78.12,182.89 L78.30,182.43 L78.49,181.96 L78.68,181.50 L78.87,181.04 L79.06,180.58 L79.26,180.11 L79.45,179.66 L79.65,179.20 L79.85,178.74 L80.05,178.28 L80.26,177.83 L80.46,177.37 L80.67,176.91 L80.88,176.46 L81.09,176.01 L81.30,175.55 L81.51,175.10 L81.73,174.65 L81.94,174.20 L82.16,173.75 L82.38,173.30 L82.60,172.85 L82.82,172.40 L83.04,171.95 L83.26,171.50 L83.48,171.05 L83.70,170.61 L83.93,170.16 L84.15,169.71 L84.37,169.26 L84.60,168.82 L84.82,168.37 L85.05,167.93 L85.28,167.48 L85.50,167.03 L85.73,166.59 L85.96,166.14 L86.19,165.70 L86.42,165.25 L86.65,164.81 L86.88,164.37 L87.11,163.92 L87.34,163.48 L87.57,163.04 L87.81,162.60 L88.04,162.16 L88.28,161.71 L88.51,161.27 L88.75,160.83 L88.99,160.39 L89.23,159.95 L89.47,159.52 L89.71,159.08 L89.95,158.64 L90.19,158.20 L90.43,157.77 L90.68,157.33 L90.92,156.89 L91.17,156.46 L91.41,156.02 L91.66,155.59 L91.91,155.15 L92.16,154.72 L92.41,154.29 L92.66,153.85 L92.91,153.42 L93.16,152.99 L93.42,152.56 L93.67,152.13 L93.93,151.70 L94.18,151.27 L94.44,150.84 L94.70,150.42 L94.96,149.99 L95.23,149.56 L95.49,149.14 L95.75,148.72 L96.02,148.29 L96.29,147.87 L96.56,147.45 L96.83,147.03 L97.10,146.61 L97.37,146.19 L97.64,145.77 L97.91,145.35 L98.19,144.93 L98.47,144.52 L98.74,144.10 L99.02,143.68 L99.30,143.27 L99.58,142.86 L99.86,142.44 L100.15,142.03 L100.43,141.62 L100.72,141.21 L101.00,140.80 L101.29,140.39 L101.59,139.99 L101.88,139.58 L102.17,139.18 L102.47,138.78 L102.77,138.38 L103.07,137.98 L103.38,137.58 L103.68,137.19 L103.99,136.79 L104.30,136.40 L104.62,136.02 L104.93,135.63 L105.25,135.25 L105.58,134.86 L105.90,134.48 L106.23,134.11 L106.56,133.73 L106.89,133.35 L107.22,132.98 L107.55,132.61 L107.89,132.23 L108.22,131.86 L108.55,131.49 L108.89,131.12 L109.22,130.75 L109.55,130.37 L109.89,130.00 L110.22,129.63 L110.55,129.25 L110.88,128.88 L111.21,128.50 L111.54,128.12 L111.87,127.75 L112.19,127.37 L112.52,126.99 L112.85,126.61 L113.18,126.24 L113.50,125.86 L113.83,125.48 L114.16,125.10 L114.49,124.72 L114.82,124.35 L115.15,123.97 L115.48,123.60 L115.81,123.22 L116.14,122.85 L116.47,122.48 L116.81,122.10 L117.14,121.73 L117.48,121.36 L117.82,121.00 L118.16,120.63 L118.50,120.26 L118.84,119.90 L119.18,119.53 L119.52,119.17 L119.87,118.81 L120.21,118.45 L120.56,118.09 L120.91,117.73 L121.26,117.37 L121.61,117.01 L121.96,116.66 L122.32,116.31 L122.68,115.96 L123.03,115.61 L123.40,115.27 L123.76,114.92 L124.13,114.58 L124.49,114.25 L124.87,113.91 L125.24,113.58 L125.62,113.25 L125.99,112.93 L126.38,112.60 L126.76,112.28 L127.15,111.97 L127.53,111.65 L127.92,111.34 L128.31,111.02 L128.70,110.71 L129.09,110.40 L129.48,110.09 L129.87,109.77 L130.26,109.46 L130.65,109.15 L131.04,108.83 L131.43,108.51 L131.81,108.20 L132.20,107.88 L132.58,107.56 L132.96,107.23 L133.34,106.91 L133.72,106.59 L134.10,106.26 L134.48,105.94 L134.86,105.61 L135.24,105.29 L135.62,104.96 L136.00,104.64 L136.39,104.32 L136.77,103.99 L137.15,103.67 L137.54,103.35 L137.92,103.04 L138.31,102.72 L138.70,102.41 L139.09,102.10 L139.49,101.79 L139.88,101.48 L140.28,101.18 L140.68,100.88 L141.08,100.58 L141.48,100.28 L141.88,99.98 L142.28,99.69 L142.69,99.40 L143.10,99.11 L143.50,98.82 L143.91,98.53 L144.32,98.24 L144.73,97.96 L145.15,97.68 L145.56,97.40 L145.98,97.13 L146.40,96.85 L146.82,96.58 L147.24,96.31 L147.66,96.05 L148.09,95.79 L148.52,95.53 L148.95,95.27 L149.38,95.02 L149.81,94.77 L150.25,94.53 L150.68,94.29 L151.12,94.05 L151.57,93.82 L152.01,93.58 L152.45,93.36 L152.90,93.13 L153.35,92.91 L153.80,92.69 L154.25,92.47 L154.70,92.26 L155.15,92.05 L155.60,91.84 L156.06,91.63 L156.51,91.42 L156.97,91.22 L157.43,91.02 L157.89,90.82 L158.35,90.62 L158.81,90.43 L159.27,90.23 L159.73,90.04 L160.19,89.85 L160.65,89.66 L161.12,89.47 L161.58,89.28 L162.04,89.09 L162.51,88.91 L162.97,88.72 L163.44,88.54 L163.90,88.36 L164.37,88.18 L164.83,88.00 L165.30,87.82 L165.77,87.64 L166.24,87.47 L166.71,87.29 L167.17,87.12 L167.64,86.95 L168.11,86.78 L168.58,86.61 L169.06,86.44 L169.53,86.28 L170.00,86.11 L170.47,85.95 L170.95,85.79 L171.42,85.63 L171.89,85.47 L172.37,85.31 L172.84,85.16 L173.32,85.00 L173.80,84.85 L174.27,84.70 L174.75,84.55 L175.23,84.40 L175.70,84.25 L176.18,84.10 L176.66,83.95 L177.14,83.81 L177.62,83.66 L178.09,83.52 L178.57,83.38 L179.05,83.23 L179.53,83.09 L180.01,82.95 L180.49,82.81 L180.97,82.67 L181.45,82.53 L181.93,82.39 L182.41,82.25 L182.89,82.12 L183.37,81.98 L183.86,81.85 L184.34,81.71 L184.82,81.58 L185.30,81.44 L185.78,81.31 L186.26,81.18 L186.75,81.05 L187.23,80.92 L187.71,80.79 L188.20,80.66 L188.68,80.53 L189.16,80.40 L189.65,80.28 L190.13,80.15 L190.61,80.02 L191.10,79.90 L191.58,79.78 L192.07,79.65 L192.55,79.53 L193.04,79.41 L193.52,79.29 L194.01,79.17 L194.49,79.05 L194.98,78.93 L195.46,78.81 L195.95,78.69 L196.44,78.58 L196.92,78.46 L197.41,78.35 L197.90,78.23 L198.38,78.12 L198.87,78.00 L199.36,77.89 L199.84,77.78 L200.33,77.67 L200.82,77.56 L201.31,77.44 L201.79,77.33 L202.28,77.22 L202.77,77.12 L203.26,77.01 L203.75,76.90 L204.23,76.79 L204.72,76.68 L205.21,76.58 L205.70,76.47 L206.19,76.36 L206.68,76.26 L207.17,76.15 L207.65,76.05 L208.14,75.94 L208.63,75.84 L209.12,75.74 L209.61,75.63 L210.10,75.53 L210.59,75.43 L211.08,75.33 L211.57,75.23 L212.06,75.14 L212.55,75.04 L213.04,74.94 L213.53,74.84 L214.02,74.75 L214.51,74.65 L215.01,74.56 L215.50,74.47 L215.99,74.38 L216.48,74.29 L216.97,74.20 L217.46,74.11 L217.96,74.02 L218.45,73.93 L218.94,73.85 L219.43,73.76 L219.93,73.68 L220.42,73.60 L220.91,73.52 L221.41,73.44 L221.90,73.36 L222.39,73.28 L222.89,73.20 L223.38,73.13 L223.88,73.05 L224.37,72.98 L224.87,72.91 L225.36,72.84 L225.86,72.77 L226.35,72.70 L226.85,72.63 L227.34,72.57 L227.84,72.50 L228.33,72.43 L228.83,72.37 L229.33,72.31 L229.82,72.24 L230.32,72.18 L230.81,72.12 L231.31,72.06 L231.81,72.00 L232.30,71.94 L232.80,71.88 L233.30,71.82 L233.79,71.76 L234.29,71.71 L234.79,71.65 L235.28,71.59 L235.78,71.53 L236.28,71.48 L236.77,71.42 L237.27,71.37 L237.77,71.31 L238.26,71.25 L238.76,71.20 L239.26,71.14 L239.75,71.09 L240.25,71.04 L240.75,70.98 L241.25,70.93 L241.74,70.88 L242.24,70.83 L242.74,70.78 L243.24,70.73 L243.73,70.68 L244.23,70.63 L244.73,70.58 L245.23,70.52 L245.72,70.47 L246.22,70.42 L246.72,70.36 L247.21,70.31 L247.71,70.25 L248.21,70.19 L248.70,70.13 L249.20,70.06 L249.69,69.99 L250.19,69.92 L250.68,69.85 L251.17,69.77 L251.67,69.69 L252.16,69.61 L252.65,69.52 L253.14,69.43 L253.64,69.34 L254.13,69.24 L254.62,69.14 L255.11,69.04 L255.60,68.94 L256.08,68.84 L256.57,68.73 L257.06,68.63 L257.55,68.52 L258.04,68.41 L258.53,68.30 L259.01,68.19 L259.50,68.08 L259.99,67.97 L260.48,67.86 L260.96,67.75 L261.45,67.64 L261.94,67.53 L262.43,67.42 L262.92,67.31 L263.40,67.20 L263.89,67.09 L264.38,66.98 L264.87,66.88 L265.36,66.77 L265.84,66.66 L266.33,66.56 L266.82,66.45 L267.31,66.34 L267.80,66.24 L268.29,66.14 L268.78,66.03 L269.27,65.93 L269.76,65.83 L270.25,65.73 L270.74,65.63 L271.23,65.54 L271.72,65.44 L272.21,65.35 L272.70,65.25 L273.19,65.16 L273.68,65.07 L274.18,64.98 L274.67,64.89 L275.16,64.80 L275.65,64.72 L276.14,64.63 L276.64,64.54 L277.13,64.46 L277.62,64.37 L278.11,64.29 L278.61,64.20 L279.10,64.12 L279.59,64.03 L280.09,63.95 L280.58,63.86 L281.07,63.78 L281.56,63.69 L282.06,63.61 L282.55,63.52 L283.04,63.43 L283.53,63.35 L284.03,63.26 L284.52,63.17 L285.01,63.09 L285.50,63.00 L286.00,62.91 L286.49,62.83 L286.98,62.74 L287.47,62.66 L287.97,62.57 L288.46,62.49 L288.95,62.41 L289.45,62.33 L289.94,62.25 L290.43,62.17 L290.93,62.10 L291.42,62.02 L291.92,61.95 L292.41,61.89 L292.91,61.82 L293.40,61.76 L293.90,61.70 L294.40,61.64 L294.89,61.58 L295.39,61.53 L295.89,61.48 L296.38,61.43 L296.88,61.38 L297.38,61.33 L297.88,61.29 L298.38,61.24 L298.87,61.20 L299.37,61.16 L299.87,61.12 L300.37,61.07 L300.87,61.03 L301.37,60.99 L301.86,60.95 L302.36,60.91 L302.86,60.87 L303.36,60.82 L303.86,60.78 L304.35,60.74 L304.85,60.69 L305.35,60.65 L305.85,60.60 L306.35,60.55 L306.84,60.50 L307.34,60.45 L307.84,60.40 L308.34,60.35 L308.83,60.30 L309.33,60.25 L309.83,60.20 L310.33,60.15 L310.82,60.09 L311.32,60.04 L311.82,59.99 L312.31,59.93 L312.81,59.88 L313.31,59.83 L313.81,59.77 L314.30,59.72 L314.80,59.66 L315.30,59.61 L315.79,59.56 L316.29,59.50 L316.79,59.45 L317.28,59.39 L317.78,59.34 L318.28,59.29 L318.78,59.23 L319.27,59.18 L319.77,59.13 L320.27,59.08 L320.77,59.02 L321.26,58.97 L321.76,58.92 L322.26,58.87 L322.75,58.82 L323.25,58.77 L323.75,58.72 L324.25,58.67 L324.74,58.62 L325.24,58.57 L325.74,58.52 L326.24,58.47 L326.73,58.42 L327.23,58.37 L327.73,58.32 L328.22,58.27 L328.72,58.22 L329.21,58.17 L329.70,58.12 L330.19,58.07 L330.67,58.02 L331.14,57.98 L331.60,57.93 L332.04,57.89 L332.46,57.85 L332.85,57.81 L333.21,57.77 L333.53,57.74 L333.82,57.71" fill="none" stroke="#000" stroke-width="1.4" stroke-dasharray="10.5 3.1" stroke-dashoffset="4.8"/>
<path d="M30.50,242.50 L31.73,242.21 L32.03,242.14 L32.37,242.06 L32.74,241.97 L33.14,241.88 L33.56,241.78 L34.00,241.68 L34.45,241.57 L34.91,241.46 L35.39,241.35 L35.86,241.23 L36.35,241.12 L36.83,241.01 L37.31,240.89 L37.80,240.78 L38.29,240.66 L38.77,240.55 L39.26,240.43 L39.75,240.32 L40.23,240.20 L40.72,240.09 L41.21,239.97 L41.69,239.86 L42.18,239.74 L42.67,239.63 L43.15,239.51 L43.64,239.40 L44.12,239.28 L44.61,239.17 L45.10,239.06 L45.59,238.95 L46.07,238.84 L46.56,238.73 L47.05,238.63 L47.54,238.52 L48.03,238.42 L48.52,238.32 L49.01,238.23 L49.50,238.13 L49.99,238.03 L50.48,237.94 L50.97,237.84 L51.46,237.74 L51.95,237.64 L52.44,237.54 L52.92,237.43 L53.40,237.31 L53.88,237.18 L54.36,237.04 L54.82,236.89 L55.29,236.72 L55.74,236.54 L56.19,236.34 L56.63,236.12 L57.05,235.88 L57.47,235.63 L57.88,235.36 L58.28,235.07 L58.67,234.77 L59.05,234.46 L59.42,234.13 L59.78,233.79 L60.13,233.45 L60.48,233.09 L60.81,232.73 L61.15,232.35 L61.47,231.98 L61.79,231.60 L62.11,231.21 L62.42,230.82 L62.73,230.43 L63.04,230.04 L63.34,229.64 L63.64,229.24 L63.94,228.84 L64.24,228.44 L64.53,228.03 L64.82,227.63 L65.11,227.22 L65.39,226.81 L65.68,226.39 L65.95,225.98 L66.23,225.56 L66.50,225.14 L66.76,224.72 L67.02,224.29 L67.27,223.86 L67.53,223.43 L67.77,223.00 L68.01,222.56 L68.25,222.12 L68.49,221.68 L68.72,221.24 L68.95,220.79 L69.17,220.35 L69.40,219.90 L69.63,219.45 L69.85,219.01 L70.07,218.56 L70.29,218.11 L70.51,217.66 L70.73,217.21 L70.95,216.76 L71.17,216.31 L71.38,215.86 L71.60,215.41 L71.81,214.96 L72.02,214.50 L72.23,214.05 L72.43,213.59 L72.64,213.14 L72.84,212.68 L73.04,212.22 L73.24,211.76 L73.43,211.30 L73.63,210.84 L73.82,210.38 L74.01,209.92 L74.21,209.46 L74.40,209.00 L74.59,208.53 L74.78,208.07 L74.97,207.61 L75.15,207.15 L75.34,206.68 L75.53,206.22 L75.72,205.76 L75.90,205.29 L76.09,204.83 L76.27,204.36 L76.46,203.90 L76.64,203.43 L76.83,202.97 L77.01,202.50 L77.19,202.04 L77.38,201.57 L77.56,201.11 L77.74,200.64 L77.93,200.18 L78.11,199.71 L78.29,199.25 L78.47,198.78 L78.65,198.31 L78.83,197.85 L79.01,197.38 L79.19,196.92 L79.37,196.45 L79.55,195.98 L79.73,195.52 L79.91,195.05 L80.09,194.58 L80.27,194.11 L80.44,193.65 L80.62,193.18 L80.80,192.71 L80.97,192.24 L81.15,191.77 L81.32,191.31 L81.50,190.84 L81.67,190.37 L81.84,189.90 L82.02,189.43 L82.19,188.96 L82.37,188.49 L82.54,188.02 L82.71,187.55 L82.89,187.09 L83.06,186.62 L83.24,186.15 L83.41,185.68 L83.59,185.21 L83.77,184.75 L83.95,184.28 L84.12,183.81 L84.30,183.35 L84.49,182.88 L84.67,182.41 L84.85,181.95 L85.04,181.49 L85.22,181.02 L85.41,180.56 L85.60,180.10 L85.79,179.63 L85.99,179.17 L86.18,178.71 L86.37,178.25 L86.57,177.79 L86.77,177.33 L86.97,176.87 L87.17,176.41 L87.37,175.96 L87.57,175.50 L87.77,175.04 L87.98,174.59 L88.18,174.13 L88.39,173.67 L88.59,173.22 L88.80,172.76 L89.01,172.31 L89.22,171.85 L89.43,171.40 L89.64,170.95 L89.85,170.49 L90.06,170.04 L90.27,169.59 L90.48,169.14 L90.70,168.68 L90.91,168.23 L91.13,167.78 L91.34,167.33 L91.56,166.88 L91.77,166.43 L91.99,165.98 L92.20,165.52 L92.42,165.07 L92.64,164.62 L92.85,164.17 L93.07,163.72 L93.28,163.27 L93.50,162.82 L93.72,162.37 L93.94,161.92 L94.15,161.47 L94.37,161.02 L94.59,160.57 L94.81,160.12 L95.03,159.67 L95.26,159.23 L95.48,158.78 L95.71,158.33 L95.93,157.89 L96.16,157.44 L96.39,157.00 L96.63,156.56 L96.87,156.12 L97.11,155.68 L97.35,155.24 L97.59,154.81 L97.84,154.38 L98.10,153.94 L98.35,153.52 L98.61,153.09 L98.87,152.66 L99.14,152.24 L99.41,151.82 L99.68,151.40 L99.95,150.98 L100.23,150.56 L100.50,150.15 L100.79,149.73 L101.07,149.32 L101.35,148.91 L101.64,148.50 L101.93,148.09 L102.22,147.68 L102.51,147.28 L102.80,146.87 L103.09,146.47 L103.39,146.06 L103.68,145.66 L103.98,145.26 L104.28,144.86 L104.58,144.46 L104.88,144.06 L105.18,143.66 L105.48,143.26 L105.78,142.86 L106.08,142.46 L106.39,142.06 L106.69,141.67 L107.00,141.27 L107.30,140.87 L107.61,140.48 L107.91,140.08 L108.22,139.69 L108.53,139.30 L108.84,138.90 L109.15,138.51 L109.46,138.12 L109.77,137.73 L110.09,137.34 L110.41,136.96 L110.73,136.57 L111.05,136.19 L111.37,135.81 L111.70,135.43 L112.02,135.05 L112.36,134.68 L112.69,134.31 L113.02,133.93 L113.36,133.57 L113.70,133.20 L114.04,132.84 L114.39,132.47 L114.74,132.12 L115.09,131.76 L115.44,131.41 L115.80,131.06 L116.16,130.72 L116.52,130.37 L116.89,130.04 L117.26,129.70 L117.64,129.37 L118.01,129.04 L118.39,128.72 L118.78,128.40 L119.16,128.08 L119.55,127.76 L119.94,127.45 L120.33,127.14 L120.72,126.83 L121.12,126.53 L121.52,126.23 L121.92,125.93 L122.32,125.63 L122.72,125.33 L123.12,125.03 L123.53,124.74 L123.93,124.45 L124.34,124.16 L124.75,123.87 L125.15,123.58 L125.56,123.29 L125.97,123.00 L126.38,122.72 L126.79,122.43 L127.21,122.15 L127.62,121.87 L128.03,121.58 L128.45,121.30 L128.86,121.03 L129.28,120.75 L129.69,120.47 L130.11,120.20 L130.53,119.92 L130.95,119.65 L131.37,119.38 L131.79,119.11 L132.21,118.84 L132.63,118.57 L133.05,118.30 L133.47,118.03 L133.90,117.77 L134.32,117.50 L134.75,117.24 L135.17,116.98 L135.60,116.72 L136.03,116.46 L136.45,116.20 L136.88,115.94 L137.31,115.68 L137.74,115.42 L138.17,115.16 L138.59,114.91 L139.02,114.65 L139.45,114.40 L139.88,114.14 L140.32,113.89 L140.75,113.63 L141.18,113.38 L141.61,113.13 L142.04,112.88 L142.48,112.63 L142.91,112.38 L143.34,112.13 L143.78,111.89 L144.22,111.64 L144.65,111.40 L145.09,111.16 L145.53,110.92 L145.97,110.68 L146.41,110.45 L146.85,110.21 L147.29,109.98 L147.74,109.75 L148.18,109.52 L148.63,109.30 L149.08,109.08 L149.53,108.86 L149.98,108.64 L150.43,108.42 L150.88,108.21 L151.33,108.00 L151.78,107.78 L152.24,107.58 L152.69,107.37 L153.15,107.16 L153.60,106.96 L154.06,106.75 L154.52,106.55 L154.97,106.35 L155.43,106.15 L155.89,105.95 L156.35,105.75 L156.81,105.55 L157.27,105.35 L157.73,105.16 L158.19,104.96 L158.65,104.77 L159.11,104.58 L159.57,104.39 L160.04,104.20 L160.50,104.01 L160.96,103.82 L161.43,103.64 L161.89,103.45 L162.36,103.27 L162.82,103.09 L163.29,102.91 L163.76,102.73 L164.22,102.55 L164.69,102.38 L165.16,102.20 L165.63,102.03 L166.10,101.86 L166.57,101.69 L167.04,101.52 L167.51,101.36 L167.99,101.19 L168.46,101.03 L168.93,100.87 L169.41,100.71 L169.88,100.56 L170.36,100.40 L170.83,100.25 L171.31,100.10 L171.79,99.95 L172.26,99.80 L172.74,99.66 L173.22,99.51 L173.70,99.37 L174.18,99.23 L174.66,99.09 L175.14,98.96 L175.62,98.82 L176.11,98.69 L176.59,98.56 L177.07,98.43 L177.55,98.30 L178.04,98.17 L178.52,98.05 L179.01,97.93 L179.49,97.80 L179.98,97.68 L180.46,97.56 L180.95,97.44 L181.43,97.32 L181.92,97.21 L182.41,97.09 L182.89,96.98 L183.38,96.86 L183.87,96.75 L184.35,96.64 L184.84,96.53 L185.33,96.42 L185.82,96.31 L186.30,96.20 L186.79,96.10 L187.28,95.99 L187.77,95.88 L188.26,95.78 L188.75,95.67 L189.24,95.57 L189.73,95.46 L190.21,95.36 L190.70,95.26 L191.19,95.15 L191.68,95.05 L192.17,94.95 L192.66,94.85 L193.15,94.74 L193.64,94.64 L194.13,94.54 L194.62,94.44 L195.11,94.34 L195.60,94.24 L196.09,94.14 L196.58,94.03 L197.07,93.93 L197.56,93.83 L198.05,93.73 L198.54,93.63 L199.03,93.52 L199.52,93.42 L200.00,93.32 L200.49,93.22 L200.98,93.11 L201.47,93.01 L201.96,92.91 L202.45,92.81 L202.94,92.71 L203.43,92.60 L203.92,92.50 L204.41,92.40 L204.90,92.30 L205.39,92.20 L205.88,92.10 L206.37,92.00 L206.86,91.90 L207.35,91.80 L207.84,91.70 L208.33,91.60 L208.82,91.50 L209.31,91.40 L209.80,91.30 L210.29,91.21 L210.78,91.11 L211.27,91.01 L211.76,90.91 L212.25,90.82 L212.74,90.72 L213.23,90.62 L213.72,90.53 L214.21,90.43 L214.70,90.34 L215.20,90.24 L215.69,90.15 L216.18,90.05 L216.67,89.96 L217.16,89.87 L217.65,89.77 L218.14,89.68 L218.63,89.59 L219.13,89.50 L219.62,89.40 L220.11,89.31 L220.60,89.22 L221.09,89.13 L221.58,89.04 L222.08,88.95 L222.57,88.86 L223.06,88.77 L223.55,88.68 L224.04,88.59 L224.53,88.50 L225.03,88.41 L225.52,88.32 L226.01,88.24 L226.50,88.15 L227.00,88.06 L227.49,87.97 L227.98,87.88 L228.47,87.79 L228.96,87.71 L229.46,87.62 L229.95,87.53 L230.44,87.44 L230.93,87.36 L231.43,87.27 L231.92,87.18 L232.41,87.10 L232.90,87.01 L233.40,86.93 L233.89,86.84 L234.38,86.76 L234.87,86.67 L235.37,86.59 L235.86,86.51 L236.35,86.42 L236.85,86.34 L237.34,86.26 L237.83,86.18 L238.33,86.10 L238.82,86.02 L239.31,85.94 L239.81,85.86 L240.30,85.78 L240.80,85.71 L241.29,85.63 L241.78,85.56 L242.28,85.48 L242.77,85.41 L243.27,85.33 L243.76,85.26 L244.26,85.19 L244.75,85.12 L245.25,85.05 L245.74,84.98 L246.24,84.91 L246.73,84.85 L247.23,84.78 L247.72,84.71 L248.22,84.65 L248.72,84.59 L249.21,84.52 L249.71,84.46 L250.20,84.40 L250.70,84.34 L251.20,84.28 L251.69,84.22 L252.19,84.16 L252.69,84.10 L253.18,84.04 L253.68,83.98 L254.18,83.93 L254.67,83.87 L255.17,83.81 L255.67,83.76 L256.16,83.70 L256.66,83.65 L257.16,83.59 L257.65,83.54 L258.15,83.49 L258.65,83.43 L259.15,83.38 L259.64,83.33 L260.14,83.27 L260.64,83.22 L261.14,83.17 L261.63,83.12 L262.13,83.07 L262.63,83.01 L263.12,82.96 L263.62,82.91 L264.12,82.86 L264.62,82.81 L265.11,82.76 L265.61,82.71 L266.11,82.66 L266.61,82.61 L267.10,82.56 L267.60,82.51 L268.10,82.46 L268.60,82.41 L269.09,82.35 L269.59,82.30 L270.09,82.25 L270.59,82.20 L271.08,82.15 L271.58,82.10 L272.08,82.05 L272.58,82.00 L273.07,81.95 L273.57,81.90 L274.07,81.85 L274.57,81.80 L275.06,81.75 L275.56,81.70 L276.06,81.65 L276.56,81.60 L277.05,81.55 L277.55,81.50 L278.05,81.46 L278.55,81.41 L279.04,81.36 L279.54,81.31 L280.04,81.26 L280.54,81.21 L281.03,81.16 L281.53,81.12 L282.03,81.07 L282.53,81.02 L283.03,80.97 L283.52,80.93 L284.02,80.88 L284.52,80.83 L285.02,80.79 L285.51,80.74 L286.01,80.69 L286.51,80.65 L287.01,80.60 L287.51,80.56 L288.00,80.51 L288.50,80.47 L289.00,80.42 L289.50,80.38 L290.00,80.33 L290.49,80.29 L290.99,80.25 L291.49,80.20 L291.99,80.16 L292.49,80.12 L292.99,80.08 L293.48,80.04 L293.98,79.99 L294.48,79.95 L294.98,79.91 L295.48,79.87 L295.98,79.83 L296.47,79.79 L296.97,79.75 L297.47,79.72 L297.97,79.68 L298.47,79.64 L298.97,79.60 L299.46,79.56 L299.96,79.53 L300.46,79.49 L300.96,79.45 L301.46,79.42 L301.96,79.38 L302.46,79.34 L302.96,79.31 L303.45,79.27 L303.95,79.24 L304.45,79.20 L304.95,79.17 L305.45,79.13 L305.95,79.10 L306.45,79.06 L306.95,79.02 L307.44,78.99 L307.94,78.95 L308.44,78.92 L308.94,78.88 L309.44,78.85 L309.94,78.81 L310.44,78.78 L310.94,78.74 L311.43,78.71 L311.93,78.67 L312.43,78.63 L312.93,78.60 L313.43,78.56 L313.93,78.52 L314.43,78.49 L314.92,78.45 L315.42,78.41 L315.92,78.37 L316.42,78.34 L316.92,78.30 L317.42,78.26 L317.92,78.22 L318.41,78.18 L318.91,78.14 L319.41,78.10 L319.91,78.06 L320.41,78.02 L320.91,77.98 L321.40,77.94 L321.90,77.90 L322.40,77.86 L322.90,77.82 L323.40,77.78 L323.90,77.74 L324.39,77.70 L324.89,77.66 L325.39,77.62 L325.89,77.58 L326.39,77.53 L326.89,77.49 L327.38,77.45 L327.88,77.41 L328.38,77.37 L328.87,77.33 L329.37,77.28 L329.85,77.24 L330.34,77.20 L330.81,77.16 L331.28,77.12 L331.73,77.08 L332.16,77.05 L332.57,77.01 L332.94,76.98 L333.29,76.95 L333.60,76.92 L333.86,76.90" fill="none" stroke="#000" stroke-width="1.4" stroke-dasharray="13.5 3 1.7 2.4 1.7 2.8" stroke-dashoffset="7"/>
<path d="M30.50,242.30 L31.75,242.07 L32.05,242.01 L32.39,241.95 L32.76,241.89 L33.16,241.81 L33.59,241.74 L34.03,241.66 L34.49,241.58 L34.96,241.49 L35.44,241.41 L35.93,241.33 L36.41,241.24 L36.90,241.16 L37.39,241.08 L37.89,241.00 L38.38,240.92 L38.87,240.84 L39.37,240.77 L39.86,240.70 L40.36,240.63 L40.85,240.56 L41.35,240.50 L41.84,240.45 L42.34,240.39 L42.84,240.35 L43.34,240.30 L43.83,240.26 L44.33,240.23 L44.83,240.19 L45.33,240.16 L45.83,240.14 L46.33,240.12 L46.83,240.10 L47.33,240.08 L47.83,240.06 L48.33,240.05 L48.83,240.04 L49.33,240.03 L49.82,240.01 L50.32,240.00 L50.82,239.98 L51.32,239.96 L51.82,239.94 L52.32,239.91 L52.81,239.87 L53.31,239.83 L53.81,239.78 L54.30,239.72 L54.79,239.64 L55.28,239.56 L55.76,239.46 L56.25,239.35 L56.73,239.23 L57.20,239.09 L57.67,238.94 L58.14,238.78 L58.59,238.60 L59.05,238.40 L59.49,238.19 L59.93,237.97 L60.37,237.73 L60.80,237.48 L61.22,237.22 L61.63,236.95 L62.04,236.67 L62.44,236.37 L62.84,236.07 L63.23,235.77 L63.61,235.45 L63.99,235.13 L64.36,234.80 L64.73,234.46 L65.09,234.12 L65.45,233.77 L65.80,233.41 L66.15,233.06 L66.49,232.69 L66.83,232.33 L67.16,231.95 L67.49,231.58 L67.81,231.20 L68.14,230.82 L68.45,230.43 L68.77,230.04 L69.08,229.65 L69.39,229.26 L69.69,228.86 L70.00,228.47 L70.30,228.07 L70.59,227.67 L70.89,227.26 L71.18,226.86 L71.47,226.45 L71.76,226.04 L72.04,225.63 L72.33,225.22 L72.61,224.81 L72.89,224.39 L73.16,223.97 L73.44,223.56 L73.71,223.14 L73.98,222.72 L74.25,222.29 L74.51,221.87 L74.78,221.45 L75.04,221.02 L75.30,220.60 L75.56,220.17 L75.82,219.74 L76.08,219.32 L76.34,218.89 L76.60,218.46 L76.86,218.03 L77.11,217.60 L77.37,217.17 L77.63,216.74 L77.88,216.31 L78.14,215.88 L78.39,215.45 L78.64,215.02 L78.90,214.59 L79.15,214.16 L79.40,213.73 L79.66,213.30 L79.91,212.86 L80.16,212.43 L80.41,212.00 L80.66,211.57 L80.91,211.14 L81.16,210.70 L81.41,210.27 L81.66,209.84 L81.91,209.40 L82.16,208.97 L82.41,208.54 L82.66,208.10 L82.91,207.67 L83.16,207.24 L83.41,206.81 L83.67,206.37 L83.92,205.94 L84.18,205.51 L84.43,205.09 L84.69,204.66 L84.95,204.23 L85.21,203.81 L85.48,203.38 L85.74,202.96 L86.01,202.53 L86.28,202.11 L86.54,201.69 L86.81,201.27 L87.07,200.84 L87.33,200.42 L87.59,199.99 L87.85,199.56 L88.11,199.13 L88.36,198.70 L88.61,198.27 L88.85,197.83 L89.10,197.40 L89.35,196.97 L89.60,196.53 L89.85,196.10 L90.10,195.67 L90.36,195.25 L90.63,194.82 L90.90,194.40 L91.17,193.99 L91.45,193.58 L91.73,193.17 L92.02,192.76 L92.32,192.35 L92.61,191.95 L92.91,191.55 L93.21,191.15 L93.51,190.75 L93.81,190.35 L94.12,189.96 L94.42,189.56 L94.72,189.16 L95.02,188.76 L95.33,188.36 L95.63,187.96 L95.93,187.57 L96.23,187.17 L96.53,186.77 L96.83,186.37 L97.13,185.97 L97.43,185.57 L97.73,185.17 L98.03,184.76 L98.33,184.36 L98.62,183.96 L98.92,183.56 L99.22,183.16 L99.52,182.76 L99.82,182.36 L100.12,181.96 L100.42,181.56 L100.72,181.17 L101.03,180.77 L101.35,180.38 L101.66,180.00 L101.98,179.62 L102.31,179.24 L102.65,178.87 L102.99,178.51 L103.33,178.15 L103.68,177.79 L104.03,177.44 L104.39,177.09 L104.75,176.75 L105.12,176.41 L105.48,176.07 L105.85,175.73 L106.22,175.39 L106.58,175.05 L106.95,174.71 L107.32,174.37 L107.69,174.04 L108.06,173.70 L108.42,173.36 L108.79,173.02 L109.16,172.68 L109.53,172.34 L109.90,172.00 L110.27,171.67 L110.64,171.33 L111.01,171.00 L111.38,170.67 L111.76,170.34 L112.14,170.01 L112.52,169.69 L112.90,169.37 L113.29,169.05 L113.67,168.74 L114.07,168.42 L114.46,168.12 L114.86,167.81 L115.26,167.51 L115.66,167.22 L116.06,166.93 L116.47,166.64 L116.88,166.35 L117.29,166.07 L117.70,165.79 L118.12,165.51 L118.54,165.23 L118.96,164.96 L119.38,164.69 L119.80,164.42 L120.22,164.16 L120.65,163.90 L121.07,163.64 L121.50,163.38 L121.93,163.12 L122.36,162.87 L122.79,162.61 L123.23,162.36 L123.66,162.11 L124.09,161.87 L124.53,161.62 L124.96,161.37 L125.40,161.13 L125.84,160.89 L126.28,160.65 L126.71,160.41 L127.15,160.17 L127.59,159.93 L128.03,159.69 L128.47,159.46 L128.91,159.22 L129.36,158.99 L129.80,158.75 L130.24,158.52 L130.68,158.29 L131.13,158.06 L131.57,157.83 L132.02,157.60 L132.46,157.37 L132.91,157.14 L133.35,156.92 L133.80,156.69 L134.24,156.46 L134.69,156.24 L135.14,156.02 L135.59,155.80 L136.03,155.58 L136.48,155.36 L136.93,155.14 L137.38,154.92 L137.83,154.70 L138.28,154.49 L138.74,154.27 L139.19,154.06 L139.64,153.84 L140.09,153.63 L140.55,153.42 L141.00,153.21 L141.46,153.01 L141.91,152.80 L142.37,152.59 L142.82,152.39 L143.28,152.18 L143.74,151.98 L144.19,151.78 L144.65,151.58 L145.11,151.38 L145.57,151.19 L146.03,150.99 L146.49,150.79 L146.95,150.60 L147.41,150.41 L147.88,150.22 L148.34,150.03 L148.80,149.84 L149.27,149.65 L149.73,149.47 L150.19,149.28 L150.66,149.10 L151.12,148.92 L151.59,148.74 L152.06,148.56 L152.52,148.38 L152.99,148.20 L153.46,148.02 L153.93,147.85 L154.39,147.67 L154.86,147.50 L155.33,147.32 L155.80,147.15 L156.27,146.98 L156.74,146.81 L157.21,146.64 L157.68,146.47 L158.15,146.30 L158.63,146.14 L159.10,145.97 L159.57,145.81 L160.04,145.64 L160.51,145.48 L160.99,145.32 L161.46,145.16 L161.94,145.00 L162.41,144.84 L162.88,144.68 L163.36,144.53 L163.83,144.37 L164.31,144.22 L164.78,144.06 L165.26,143.91 L165.74,143.76 L166.21,143.61 L166.69,143.46 L167.17,143.31 L167.65,143.16 L168.12,143.01 L168.60,142.87 L169.08,142.72 L169.56,142.58 L170.04,142.44 L170.52,142.30 L171.00,142.16 L171.48,142.02 L171.96,141.88 L172.44,141.74 L172.92,141.61 L173.40,141.47 L173.88,141.34 L174.37,141.20 L174.85,141.07 L175.33,140.94 L175.81,140.81 L176.30,140.68 L176.78,140.55 L177.26,140.42 L177.75,140.30 L178.23,140.17 L178.71,140.05 L179.20,139.92 L179.68,139.80 L180.17,139.68 L180.65,139.56 L181.14,139.44 L181.62,139.32 L182.11,139.20 L182.60,139.08 L183.08,138.96 L183.57,138.85 L184.05,138.73 L184.54,138.61 L185.03,138.50 L185.51,138.38 L186.00,138.27 L186.49,138.16 L186.98,138.05 L187.46,137.93 L187.95,137.82 L188.44,137.71 L188.92,137.60 L189.41,137.49 L189.90,137.38 L190.39,137.27 L190.88,137.16 L191.36,137.05 L191.85,136.95 L192.34,136.84 L192.83,136.73 L193.32,136.62 L193.81,136.52 L194.29,136.41 L194.78,136.30 L195.27,136.20 L195.76,136.09 L196.25,135.99 L196.74,135.88 L197.23,135.78 L197.72,135.67 L198.20,135.57 L198.69,135.46 L199.18,135.36 L199.67,135.25 L200.16,135.15 L200.65,135.04 L201.14,134.94 L201.63,134.84 L202.12,134.73 L202.61,134.63 L203.09,134.52 L203.58,134.42 L204.07,134.32 L204.56,134.21 L205.05,134.11 L205.54,134.01 L206.03,133.91 L206.52,133.81 L207.01,133.70 L207.50,133.60 L207.99,133.50 L208.48,133.40 L208.97,133.30 L209.46,133.20 L209.95,133.10 L210.44,133.00 L210.93,132.91 L211.42,132.81 L211.91,132.71 L212.40,132.61 L212.89,132.52 L213.38,132.42 L213.87,132.32 L214.36,132.23 L214.85,132.13 L215.34,132.04 L215.84,131.94 L216.33,131.85 L216.82,131.76 L217.31,131.67 L217.80,131.57 L218.29,131.48 L218.78,131.39 L219.28,131.30 L219.77,131.21 L220.26,131.12 L220.75,131.04 L221.24,130.95 L221.74,130.86 L222.23,130.78 L222.72,130.69 L223.22,130.61 L223.71,130.52 L224.20,130.44 L224.69,130.35 L225.19,130.27 L225.68,130.19 L226.17,130.11 L226.67,130.02 L227.16,129.94 L227.65,129.86 L228.15,129.78 L228.64,129.70 L229.13,129.62 L229.63,129.54 L230.12,129.46 L230.61,129.38 L231.11,129.31 L231.60,129.23 L232.10,129.15 L232.59,129.07 L233.08,129.00 L233.58,128.92 L234.07,128.85 L234.57,128.77 L235.06,128.70 L235.56,128.62 L236.05,128.55 L236.55,128.47 L237.04,128.40 L237.53,128.33 L238.03,128.26 L238.52,128.19 L239.02,128.11 L239.51,128.04 L240.01,127.97 L240.50,127.90 L241.00,127.84 L241.50,127.77 L241.99,127.70 L242.49,127.63 L242.98,127.57 L243.48,127.50 L243.97,127.43 L244.47,127.37 L244.96,127.30 L245.46,127.24 L245.96,127.18 L246.45,127.11 L246.95,127.05 L247.44,126.99 L247.94,126.93 L248.44,126.87 L248.93,126.81 L249.43,126.75 L249.93,126.69 L250.42,126.63 L250.92,126.57 L251.42,126.51 L251.91,126.45 L252.41,126.40 L252.91,126.34 L253.40,126.28 L253.90,126.23 L254.40,126.17 L254.89,126.12 L255.39,126.06 L255.89,126.01 L256.38,125.95 L256.88,125.90 L257.38,125.85 L257.88,125.79 L258.37,125.74 L258.87,125.69 L259.37,125.64 L259.86,125.58 L260.36,125.53 L260.86,125.48 L261.36,125.43 L261.85,125.38 L262.35,125.33 L262.85,125.28 L263.35,125.23 L263.84,125.18 L264.34,125.13 L264.84,125.08 L265.34,125.03 L265.83,124.98 L266.33,124.93 L266.83,124.88 L267.33,124.83 L267.82,124.78 L268.32,124.73 L268.82,124.68 L269.32,124.63 L269.81,124.58 L270.31,124.53 L270.81,124.48 L271.31,124.44 L271.80,124.39 L272.30,124.34 L272.80,124.29 L273.30,124.24 L273.80,124.19 L274.29,124.14 L274.79,124.10 L275.29,124.05 L275.79,124.00 L276.28,123.95 L276.78,123.91 L277.28,123.86 L277.78,123.82 L278.28,123.77 L278.77,123.73 L279.27,123.69 L279.77,123.65 L280.27,123.61 L280.77,123.57 L281.27,123.53 L281.76,123.49 L282.26,123.45 L282.76,123.42 L283.26,123.38 L283.76,123.35 L284.26,123.31 L284.76,123.28 L285.26,123.24 L285.75,123.21 L286.25,123.18 L286.75,123.15 L287.25,123.11 L287.75,123.08 L288.25,123.06 L288.75,123.03 L289.25,123.00 L289.75,122.98 L290.25,122.95 L290.75,122.93 L291.25,122.91 L291.74,122.89 L292.24,122.88 L292.74,122.86 L293.24,122.85 L293.74,122.84 L294.24,122.83 L294.74,122.82 L295.24,122.81 L295.74,122.81 L296.24,122.80 L296.74,122.79 L297.24,122.79 L297.74,122.78 L298.24,122.78 L298.74,122.78 L299.24,122.77 L299.74,122.77 L300.24,122.76 L300.74,122.76 L301.24,122.76 L301.74,122.75 L302.24,122.75 L302.74,122.75 L303.24,122.74 L303.74,122.74 L304.24,122.74 L304.74,122.74 L305.24,122.73 L305.74,122.73 L306.24,122.73 L306.74,122.73 L307.24,122.72 L307.74,122.72 L308.24,122.72 L308.74,122.72 L309.24,122.72 L309.74,122.71 L310.24,122.71 L310.74,122.71 L311.24,122.71 L311.74,122.71 L312.24,122.71 L312.74,122.71 L313.24,122.71 L313.74,122.70 L314.24,122.70 L314.74,122.70 L315.24,122.70 L315.74,122.70 L316.24,122.70 L316.74,122.70 L317.24,122.70 L317.74,122.70 L318.24,122.70 L318.74,122.70 L319.24,122.70 L319.74,122.70 L320.24,122.70 L320.74,122.70 L321.24,122.70 L321.74,122.70 L322.24,122.70 L322.74,122.70 L323.24,122.70 L323.74,122.70 L324.24,122.70 L324.74,122.70 L325.24,122.70 L325.74,122.70 L326.24,122.70 L326.74,122.70 L327.24,122.70 L327.74,122.70 L328.23,122.70 L328.72,122.70 L329.21,122.70 L329.69,122.70 L330.15,122.70 L330.60,122.70 L331.04,122.70 L331.44,122.70 L331.82,122.70 L332.17,122.70 L332.48,122.70 L332.75,122.70" fill="none" stroke="#000" stroke-width="1.4" stroke-dasharray="13.5 2.9 1.8 2.8" stroke-dashoffset="7.8"/>
<line x1="30.5" y1="310" x2="339.5" y2="310" stroke="#555" stroke-width="1" stroke-linecap="square"/>
<line x1="339.5" y1="310" x2="339.5" y2="562.5" stroke="#777" stroke-width="1" stroke-linecap="square"/>
<line x1="30.5" y1="562.5" x2="339.5" y2="562.5" stroke="#777" stroke-width="1" stroke-linecap="square"/>
<line x1="30.5" y1="310" x2="30.5" y2="562.5" stroke="#555" stroke-width="1" stroke-linecap="square"/>
<line x1="28" y1="544.4" x2="30.5" y2="544.4" stroke="#222" stroke-width="1" />
<text transform="translate(25.6 546.6999999999999) scale(0.82 1)" font-size="6.7" text-anchor="end" font-weight="normal" fill="#000" stroke="#000" stroke-width="0.2">0</text>
<line x1="28" y1="491.22499999999997" x2="30.5" y2="491.22499999999997" stroke="#222" stroke-width="1" />
<text transform="translate(25.6 493.525) scale(0.82 1)" font-size="6.7" text-anchor="end" font-weight="normal" fill="#000" stroke="#000" stroke-width="0.2">50</text>
<line x1="28" y1="438.04999999999995" x2="30.5" y2="438.04999999999995" stroke="#222" stroke-width="1" />
<text transform="translate(25.6 440.34999999999997) scale(0.82 1)" font-size="6.7" text-anchor="end" font-weight="normal" fill="#000" stroke="#000" stroke-width="0.2">100</text>
<line x1="28" y1="384.875" x2="30.5" y2="384.875" stroke="#222" stroke-width="1" />
<text transform="translate(25.6 387.175) scale(0.82 1)" font-size="6.7" text-anchor="end" font-weight="normal" fill="#000" stroke="#000" stroke-width="0.2">150</text>
<line x1="28" y1="331.7" x2="30.5" y2="331.7" stroke="#222" stroke-width="1" />
<text transform="translate(25.6 334.0) scale(0.82 1)" font-size="6.7" text-anchor="end" font-weight="normal" fill="#000" stroke="#000" stroke-width="0.2">200</text>
<line x1="30.2" y1="562.5" x2="30.2" y2="565.1" stroke="#222" stroke-width="1" />
<text transform="translate(30.2 574) scale(0.82 1)" font-size="6.7" text-anchor="middle" font-weight="normal" fill="#000" stroke="#000" stroke-width="0.2">0</text>
<line x1="90.9" y1="562.5" x2="90.9" y2="565.1" stroke="#222" stroke-width="1" />
<text transform="translate(90.9 574) scale(0.82 1)" font-size="6.7" text-anchor="middle" font-weight="normal" fill="#000" stroke="#000" stroke-width="0.2">2</text>
<line x1="151.6" y1="562.5" x2="151.6" y2="565.1" stroke="#222" stroke-width="1" />
<text transform="translate(151.6 574) scale(0.82 1)" font-size="6.7" text-anchor="middle" font-weight="normal" fill="#000" stroke="#000" stroke-width="0.2">4</text>
<line x1="212.3" y1="562.5" x2="212.3" y2="565.1" stroke="#222" stroke-width="1" />
<text transform="translate(212.3 574) scale(0.82 1)" font-size="6.7" text-anchor="middle" font-weight="normal" fill="#000" stroke="#000" stroke-width="0.2">6</text>
<line x1="273.0" y1="562.5" x2="273.0" y2="565.1" stroke="#222" stroke-width="1" />
<text transform="translate(273.0 574) scale(0.82 1)" font-size="6.7" text-anchor="middle" font-weight="normal" fill="#000" stroke="#000" stroke-width="0.2">8</text>
<line x1="333.7" y1="562.5" x2="333.7" y2="565.1" stroke="#222" stroke-width="1" />
<text transform="translate(333.7 574) scale(0.82 1)" font-size="6.7" text-anchor="middle" font-weight="normal" fill="#000" stroke="#000" stroke-width="0.2">10</text>
<text x="153.6" y="589.3" font-size="11.8" text-anchor="start" font-weight="normal" fill="#111" textLength="62.4" lengthAdjust="spacingAndGlyphs" >Time, minutes</text>
<text x="12.8" y="506.7" font-size="10.2" text-anchor="start" font-weight="normal" fill="#111" textLength="126.9" lengthAdjust="spacingAndGlyphs" transform="rotate(-90 12.8 506.7)" >Light scattering intensity</text>
<text x="42.4" y="330.6" font-size="17.8" text-anchor="start" font-weight="bold" fill="#000" textLength="10.2" lengthAdjust="spacingAndGlyphs" >C</text>
<line x1="254" y1="493.5" x2="285.9" y2="493.5" stroke="#000" stroke-width="1.8" />
<text x="293.5" y="496.5" font-size="8.4" text-anchor="start" font-weight="normal" fill="#111" textLength="15.7" lengthAdjust="spacingAndGlyphs" stroke="#111" stroke-width="0.3">0 µM</text>
<line x1="254" y1="506" x2="285.9" y2="506" stroke="#000" stroke-width="1.5" stroke-dasharray="19.5 6.6"/>
<text x="293.5" y="509.0" font-size="8.4" text-anchor="start" font-weight="normal" fill="#111" textLength="19.5" lengthAdjust="spacingAndGlyphs" stroke="#111" stroke-width="0.3">50 µM</text>
<line x1="254" y1="518.3" x2="285.9" y2="518.3" stroke="#000" stroke-width="1.5" stroke-dasharray="19.5 3.2 10.4 3.2 10.4 9.6"/>
<text x="293.5" y="521.3" font-size="8.4" text-anchor="start" font-weight="normal" fill="#111" textLength="23.5" lengthAdjust="spacingAndGlyphs" stroke="#111" stroke-width="0.3">100 µM</text>
<line x1="254" y1="530.4" x2="285.9" y2="530.4" stroke="#000" stroke-width="1.5" stroke-dasharray="10 3.3 19.3 10.4"/>
<text x="293.5" y="533.4" font-size="8.4" text-anchor="start" font-weight="normal" fill="#111" textLength="23.5" lengthAdjust="spacingAndGlyphs" stroke="#111" stroke-width="0.3">250 µM</text>
<line x1="254" y1="542.6" x2="285.9" y2="542.6" stroke="#000" stroke-width="1.5" stroke-dasharray="13.1 3.1 1.7 2.6 1.6 3.1"/>
<text x="293.5" y="545.6" font-size="8.4" text-anchor="start" font-weight="normal" fill="#111" textLength="23.5" lengthAdjust="spacingAndGlyphs" stroke="#111" stroke-width="0.3">500 µM</text>
<path d="M30.50,546.00 L31.76,545.84 L32.06,545.80 L32.40,545.75 L32.78,545.70 L33.18,545.64 L33.61,545.58 L34.06,545.51 L34.52,545.44 L34.99,545.37 L35.47,545.29 L35.95,545.21 L36.44,545.12 L36.93,545.03 L37.42,544.94 L37.91,544.84 L38.40,544.74 L38.88,544.64 L39.37,544.53 L39.86,544.42 L40.35,544.31 L40.83,544.19 L41.32,544.07 L41.80,543.95 L42.28,543.82 L42.76,543.68 L43.24,543.54 L43.72,543.39 L44.19,543.24 L44.66,543.08 L45.13,542.91 L45.59,542.73 L46.05,542.54 L46.51,542.34 L46.96,542.13 L47.40,541.91 L47.84,541.68 L48.27,541.44 L48.70,541.18 L49.11,540.91 L49.52,540.63 L49.92,540.34 L50.31,540.04 L50.69,539.72 L51.06,539.40 L51.43,539.06 L51.78,538.72 L52.13,538.36 L52.47,538.00 L52.80,537.63 L53.13,537.26 L53.45,536.88 L53.77,536.49 L54.08,536.10 L54.39,535.71 L54.69,535.31 L54.99,534.91 L55.29,534.51 L55.58,534.10 L55.87,533.70 L56.15,533.28 L56.43,532.87 L56.71,532.45 L56.98,532.04 L57.25,531.62 L57.51,531.19 L57.78,530.77 L58.04,530.34 L58.29,529.91 L58.55,529.48 L58.80,529.05 L59.04,528.61 L59.29,528.18 L59.53,527.74 L59.77,527.30 L60.01,526.87 L60.25,526.42 L60.48,525.98 L60.72,525.54 L60.94,525.10 L61.17,524.65 L61.40,524.20 L61.62,523.76 L61.84,523.31 L62.06,522.86 L62.27,522.41 L62.49,521.96 L62.70,521.50 L62.91,521.05 L63.12,520.59 L63.32,520.14 L63.53,519.68 L63.73,519.23 L63.93,518.77 L64.13,518.31 L64.33,517.85 L64.53,517.39 L64.72,516.93 L64.91,516.47 L65.10,516.01 L65.29,515.54 L65.48,515.08 L65.67,514.62 L65.85,514.15 L66.03,513.69 L66.21,513.22 L66.39,512.75 L66.57,512.29 L66.74,511.82 L66.92,511.35 L67.09,510.88 L67.26,510.41 L67.43,509.94 L67.60,509.47 L67.77,509.00 L67.93,508.53 L68.10,508.05 L68.26,507.58 L68.42,507.11 L68.58,506.64 L68.74,506.16 L68.90,505.69 L69.06,505.21 L69.22,504.74 L69.37,504.26 L69.53,503.79 L69.68,503.31 L69.83,502.84 L69.98,502.36 L70.13,501.88 L70.28,501.40 L70.42,500.93 L70.57,500.45 L70.71,499.97 L70.86,499.49 L71.00,499.01 L71.15,498.53 L71.29,498.05 L71.43,497.57 L71.58,497.10 L71.72,496.62 L71.87,496.14 L72.01,495.66 L72.15,495.18 L72.30,494.70 L72.44,494.22 L72.58,493.74 L72.73,493.26 L72.87,492.78 L73.01,492.31 L73.16,491.83 L73.30,491.35 L73.44,490.87 L73.58,490.39 L73.73,489.91 L73.87,489.43 L74.01,488.95 L74.16,488.47 L74.30,487.99 L74.44,487.51 L74.59,487.04 L74.73,486.56 L74.87,486.08 L75.01,485.60 L75.16,485.12 L75.30,484.64 L75.45,484.16 L75.59,483.68 L75.73,483.20 L75.88,482.72 L76.02,482.25 L76.16,481.77 L76.31,481.29 L76.45,480.81 L76.60,480.33 L76.74,479.85 L76.88,479.37 L77.03,478.89 L77.17,478.42 L77.31,477.94 L77.46,477.46 L77.60,476.98 L77.75,476.50 L77.89,476.02 L78.04,475.54 L78.19,475.07 L78.33,474.59 L78.48,474.11 L78.63,473.63 L78.78,473.16 L78.93,472.68 L79.09,472.20 L79.24,471.73 L79.40,471.25 L79.55,470.78 L79.71,470.30 L79.87,469.83 L80.03,469.36 L80.19,468.88 L80.35,468.41 L80.52,467.94 L80.68,467.47 L80.85,466.99 L81.01,466.52 L81.18,466.05 L81.35,465.58 L81.51,465.11 L81.68,464.64 L81.86,464.17 L82.03,463.70 L82.20,463.23 L82.37,462.76 L82.55,462.29 L82.72,461.82 L82.90,461.36 L83.07,460.89 L83.25,460.42 L83.43,459.95 L83.60,459.49 L83.78,459.02 L83.96,458.55 L84.15,458.09 L84.33,457.62 L84.51,457.15 L84.69,456.69 L84.88,456.22 L85.06,455.76 L85.25,455.30 L85.43,454.83 L85.62,454.37 L85.81,453.90 L86.00,453.44 L86.19,452.98 L86.38,452.52 L86.57,452.05 L86.76,451.59 L86.95,451.13 L87.15,450.67 L87.34,450.21 L87.54,449.75 L87.74,449.29 L87.93,448.83 L88.13,448.37 L88.33,447.92 L88.53,447.46 L88.74,447.00 L88.94,446.54 L89.15,446.09 L89.35,445.63 L89.56,445.18 L89.77,444.72 L89.98,444.27 L90.19,443.82 L90.40,443.36 L90.61,442.91 L90.82,442.46 L91.04,442.01 L91.26,441.56 L91.47,441.11 L91.69,440.66 L91.91,440.21 L92.13,439.76 L92.35,439.31 L92.58,438.86 L92.80,438.42 L93.02,437.97 L93.25,437.52 L93.48,437.08 L93.70,436.63 L93.93,436.19 L94.16,435.74 L94.39,435.30 L94.62,434.85 L94.85,434.41 L95.08,433.97 L95.31,433.52 L95.54,433.08 L95.77,432.64 L96.01,432.19 L96.24,431.75 L96.48,431.31 L96.71,430.87 L96.95,430.43 L97.18,429.99 L97.42,429.55 L97.66,429.11 L97.91,428.67 L98.15,428.24 L98.40,427.80 L98.64,427.37 L98.89,426.94 L99.15,426.50 L99.40,426.07 L99.66,425.65 L99.92,425.22 L100.18,424.79 L100.44,424.37 L100.71,423.95 L100.98,423.52 L101.25,423.11 L101.52,422.69 L101.80,422.27 L102.08,421.85 L102.36,421.44 L102.64,421.03 L102.92,420.62 L103.21,420.21 L103.50,419.80 L103.79,419.39 L104.08,418.99 L104.38,418.58 L104.67,418.18 L104.97,417.78 L105.27,417.38 L105.58,416.98 L105.88,416.59 L106.19,416.19 L106.50,415.80 L106.81,415.41 L107.12,415.02 L107.44,414.64 L107.76,414.25 L108.08,413.87 L108.40,413.49 L108.73,413.11 L109.06,412.73 L109.39,412.35 L109.72,411.98 L110.05,411.61 L110.39,411.23 L110.72,410.86 L111.06,410.50 L111.40,410.13 L111.74,409.76 L112.08,409.39 L112.42,409.03 L112.76,408.66 L113.10,408.30 L113.44,407.94 L113.79,407.57 L114.13,407.21 L114.48,406.85 L114.82,406.49 L115.17,406.13 L115.52,405.77 L115.87,405.41 L116.22,405.05 L116.57,404.69 L116.92,404.34 L117.27,403.98 L117.62,403.63 L117.97,403.27 L118.33,402.92 L118.68,402.57 L119.04,402.21 L119.39,401.86 L119.75,401.51 L120.10,401.16 L120.46,400.81 L120.82,400.46 L121.18,400.11 L121.53,399.76 L121.89,399.42 L122.25,399.07 L122.61,398.72 L122.98,398.38 L123.34,398.03 L123.70,397.69 L124.07,397.35 L124.43,397.01 L124.80,396.66 L125.16,396.32 L125.53,395.99 L125.90,395.65 L126.27,395.31 L126.64,394.98 L127.01,394.64 L127.38,394.31 L127.76,393.98 L128.13,393.64 L128.51,393.31 L128.88,392.99 L129.26,392.66 L129.64,392.33 L130.02,392.01 L130.41,391.69 L130.79,391.37 L131.18,391.05 L131.56,390.74 L131.95,390.42 L132.35,390.11 L132.74,389.81 L133.13,389.50 L133.53,389.19 L133.93,388.89 L134.33,388.59 L134.73,388.29 L135.13,388.00 L135.53,387.70 L135.94,387.41 L136.34,387.11 L136.75,386.82 L137.16,386.53 L137.57,386.25 L137.98,385.96 L138.39,385.67 L138.80,385.39 L139.21,385.10 L139.62,384.82 L140.03,384.54 L140.45,384.26 L140.86,383.97 L141.27,383.69 L141.69,383.41 L142.10,383.13 L142.52,382.85 L142.93,382.58 L143.35,382.30 L143.76,382.02 L144.18,381.75 L144.60,381.47 L145.02,381.20 L145.44,380.93 L145.86,380.66 L146.28,380.40 L146.71,380.13 L147.13,379.87 L147.56,379.61 L147.99,379.36 L148.42,379.10 L148.85,378.85 L149.29,378.60 L149.72,378.36 L150.16,378.12 L150.60,377.88 L151.04,377.64 L151.48,377.40 L151.92,377.17 L152.37,376.94 L152.81,376.71 L153.26,376.49 L153.70,376.27 L154.15,376.04 L154.60,375.82 L155.05,375.60 L155.50,375.39 L155.95,375.17 L156.40,374.96 L156.86,374.74 L157.31,374.53 L157.76,374.32 L158.22,374.12 L158.67,373.91 L159.13,373.71 L159.59,373.50 L160.04,373.30 L160.50,373.10 L160.96,372.91 L161.42,372.71 L161.88,372.51 L162.34,372.32 L162.80,372.13 L163.27,371.94 L163.73,371.75 L164.19,371.56 L164.66,371.38 L165.12,371.19 L165.59,371.01 L166.05,370.83 L166.52,370.65 L166.99,370.48 L167.46,370.30 L167.93,370.13 L168.39,369.95 L168.86,369.78 L169.34,369.61 L169.81,369.45 L170.28,369.28 L170.75,369.12 L171.22,368.96 L171.70,368.80 L172.17,368.64 L172.65,368.48 L173.12,368.33 L173.60,368.18 L174.07,368.02 L174.55,367.87 L175.03,367.73 L175.51,367.58 L175.98,367.43 L176.46,367.29 L176.94,367.14 L177.42,367.00 L177.90,366.86 L178.38,366.72 L178.86,366.57 L179.34,366.43 L179.82,366.29 L180.30,366.15 L180.78,366.01 L181.26,365.87 L181.74,365.73 L182.22,365.60 L182.70,365.46 L183.18,365.32 L183.66,365.18 L184.14,365.04 L184.62,364.90 L185.10,364.76 L185.58,364.62 L186.06,364.47 L186.54,364.33 L187.02,364.19 L187.50,364.05 L187.98,363.91 L188.46,363.77 L188.94,363.63 L189.42,363.49 L189.90,363.35 L190.38,363.21 L190.86,363.07 L191.34,362.93 L191.82,362.79 L192.30,362.65 L192.78,362.51 L193.26,362.37 L193.74,362.23 L194.22,362.09 L194.70,361.96 L195.18,361.82 L195.66,361.68 L196.14,361.55 L196.62,361.41 L197.10,361.27 L197.59,361.14 L198.07,361.00 L198.55,360.87 L199.03,360.73 L199.51,360.60 L199.99,360.46 L200.47,360.33 L200.96,360.19 L201.44,360.06 L201.92,359.93 L202.40,359.79 L202.88,359.66 L203.37,359.53 L203.85,359.39 L204.33,359.26 L204.81,359.13 L205.29,359.00 L205.78,358.86 L206.26,358.73 L206.74,358.60 L207.22,358.47 L207.71,358.34 L208.19,358.21 L208.67,358.07 L209.15,357.94 L209.64,357.81 L210.12,357.68 L210.60,357.55 L211.08,357.42 L211.57,357.29 L212.05,357.16 L212.53,357.04 L213.02,356.91 L213.50,356.78 L213.98,356.65 L214.47,356.52 L214.95,356.40 L215.43,356.27 L215.92,356.14 L216.40,356.02 L216.89,355.89 L217.37,355.77 L217.85,355.64 L218.34,355.52 L218.82,355.39 L219.31,355.27 L219.79,355.15 L220.28,355.02 L220.76,354.90 L221.25,354.78 L221.73,354.66 L222.22,354.54 L222.70,354.41 L223.19,354.29 L223.67,354.17 L224.16,354.05 L224.64,353.93 L225.13,353.82 L225.61,353.70 L226.10,353.58 L226.58,353.46 L227.07,353.34 L227.56,353.22 L228.04,353.10 L228.53,352.99 L229.01,352.87 L229.50,352.75 L229.99,352.63 L230.47,352.52 L230.96,352.40 L231.44,352.28 L231.93,352.17 L232.42,352.05 L232.90,351.94 L233.39,351.82 L233.88,351.71 L234.36,351.60 L234.85,351.48 L235.34,351.37 L235.83,351.26 L236.31,351.14 L236.80,351.03 L237.29,350.92 L237.78,350.81 L238.26,350.70 L238.75,350.59 L239.24,350.48 L239.73,350.37 L240.22,350.27 L240.70,350.16 L241.19,350.05 L241.68,349.95 L242.17,349.84 L242.66,349.74 L243.15,349.64 L243.64,349.53 L244.13,349.43 L244.62,349.33 L245.11,349.23 L245.60,349.13 L246.09,349.03 L246.58,348.93 L247.07,348.84 L247.56,348.74 L248.05,348.64 L248.54,348.55 L249.03,348.45 L249.52,348.36 L250.01,348.26 L250.50,348.17 L250.99,348.08 L251.49,347.98 L251.98,347.89 L252.47,347.80 L252.96,347.71 L253.45,347.62 L253.94,347.53 L254.44,347.44 L254.93,347.35 L255.42,347.26 L255.91,347.17 L256.40,347.09 L256.90,347.00 L257.39,346.92 L257.88,346.83 L258.38,346.75 L258.87,346.66 L259.36,346.58 L259.85,346.50 L260.35,346.42 L260.84,346.34 L261.34,346.26 L261.83,346.18 L262.32,346.10 L262.82,346.03 L263.31,345.95 L263.81,345.88 L264.30,345.80 L264.79,345.73 L265.29,345.66 L265.78,345.58 L266.28,345.51 L266.77,345.44 L267.27,345.37 L267.76,345.31 L268.26,345.24 L268.76,345.17 L269.25,345.11 L269.75,345.04 L270.24,344.98 L270.74,344.92 L271.24,344.85 L271.73,344.79 L272.23,344.73 L272.72,344.67 L273.22,344.61 L273.72,344.55 L274.21,344.49 L274.71,344.43 L275.21,344.37 L275.70,344.32 L276.20,344.26 L276.70,344.20 L277.19,344.14 L277.69,344.09 L278.19,344.03 L278.68,343.97 L279.18,343.92 L279.68,343.86 L280.17,343.80 L280.67,343.75 L281.17,343.69 L281.66,343.63 L282.16,343.58 L282.66,343.52 L283.15,343.46 L283.65,343.41 L284.15,343.35 L284.64,343.29 L285.14,343.23 L285.64,343.18 L286.13,343.12 L286.63,343.06 L287.13,343.00 L287.62,342.94 L288.12,342.88 L288.62,342.82 L289.11,342.76 L289.61,342.70 L290.10,342.63 L290.60,342.57 L291.10,342.51 L291.59,342.45 L292.09,342.39 L292.59,342.32 L293.08,342.26 L293.58,342.20 L294.07,342.13 L294.57,342.07 L295.07,342.01 L295.56,341.94 L296.06,341.88 L296.55,341.81 L297.05,341.75 L297.54,341.69 L298.04,341.62 L298.54,341.56 L299.03,341.49 L299.53,341.43 L300.02,341.36 L300.52,341.30 L301.02,341.23 L301.51,341.17 L302.01,341.10 L302.50,341.04 L303.00,340.97 L303.49,340.91 L303.99,340.84 L304.49,340.78 L304.98,340.71 L305.48,340.65 L305.97,340.59 L306.47,340.52 L306.96,340.46 L307.46,340.39 L307.96,340.33 L308.45,340.26 L308.95,340.20 L309.44,340.13 L309.94,340.07 L310.44,340.00 L310.93,339.94 L311.43,339.87 L311.92,339.81 L312.42,339.74 L312.91,339.68 L313.41,339.62 L313.91,339.55 L314.40,339.49 L314.90,339.42 L315.39,339.36 L315.89,339.29 L316.39,339.23 L316.88,339.16 L317.38,339.10 L317.87,339.04 L318.37,338.97 L318.86,338.91 L319.36,338.84 L319.86,338.78 L320.35,338.71 L320.85,338.65 L321.34,338.58 L321.84,338.52 L322.33,338.45 L322.83,338.39 L323.33,338.32 L323.82,338.26 L324.32,338.20 L324.81,338.13 L325.31,338.07 L325.80,338.00 L326.30,337.94 L326.79,337.87 L327.28,337.81 L327.76,337.75 L328.24,337.68 L328.71,337.62 L329.16,337.56 L329.60,337.50 L330.02,337.45 L330.41,337.40 L330.77,337.35 L331.09,337.31 L331.38,337.27" fill="none" stroke="#000" stroke-width="1.5"/>
<path d="M30.50,546.20 L31.76,546.04 L32.06,546.00 L32.40,545.95 L32.78,545.90 L33.18,545.84 L33.61,545.78 L34.06,545.71 L34.52,545.64 L34.99,545.57 L35.47,545.49 L35.95,545.41 L36.44,545.32 L36.93,545.23 L37.42,545.14 L37.91,545.04 L38.40,544.94 L38.88,544.84 L39.37,544.73 L39.86,544.62 L40.35,544.51 L40.83,544.39 L41.32,544.27 L41.80,544.15 L42.28,544.02 L42.77,543.89 L43.25,543.75 L43.72,543.61 L44.20,543.46 L44.67,543.30 L45.15,543.14 L45.62,542.98 L46.08,542.80 L46.54,542.62 L47.00,542.43 L47.46,542.22 L47.90,542.01 L48.35,541.79 L48.78,541.55 L49.21,541.30 L49.63,541.04 L50.04,540.77 L50.44,540.48 L50.83,540.19 L51.21,539.87 L51.59,539.55 L51.95,539.21 L52.31,538.87 L52.65,538.51 L52.99,538.15 L53.32,537.78 L53.64,537.40 L53.95,537.01 L54.25,536.62 L54.55,536.22 L54.84,535.81 L55.12,535.40 L55.40,534.99 L55.67,534.57 L55.93,534.15 L56.19,533.72 L56.44,533.29 L56.69,532.85 L56.93,532.42 L57.17,531.98 L57.40,531.54 L57.63,531.09 L57.85,530.64 L58.07,530.20 L58.28,529.74 L58.50,529.29 L58.70,528.84 L58.91,528.38 L59.12,527.93 L59.32,527.47 L59.52,527.01 L59.72,526.55 L59.92,526.09 L60.12,525.64 L60.31,525.18 L60.51,524.72 L60.70,524.26 L60.90,523.80 L61.09,523.34 L61.29,522.87 L61.48,522.41 L61.67,521.95 L61.87,521.49 L62.06,521.03 L62.25,520.57 L62.44,520.10 L62.62,519.64 L62.81,519.18 L63.00,518.71 L63.18,518.25 L63.37,517.78 L63.55,517.32 L63.74,516.86 L63.93,516.39 L64.11,515.93 L64.30,515.46 L64.48,515.00 L64.67,514.54 L64.86,514.07 L65.05,513.61 L65.24,513.15 L65.44,512.69 L65.63,512.23 L65.83,511.77 L66.03,511.31 L66.23,510.85 L66.43,510.39 L66.63,509.94 L66.84,509.48 L67.05,509.03 L67.26,508.57 L67.46,508.12 L67.68,507.67 L67.89,507.21 L68.10,506.76 L68.32,506.31 L68.53,505.86 L68.75,505.41 L68.96,504.96 L69.18,504.51 L69.40,504.06 L69.62,503.61 L69.84,503.16 L70.06,502.71 L70.28,502.26 L70.50,501.81 L70.72,501.36 L70.95,500.92 L71.17,500.47 L71.39,500.02 L71.62,499.58 L71.84,499.13 L72.07,498.68 L72.29,498.24 L72.52,497.79 L72.74,497.34 L72.96,496.89 L73.17,496.44 L73.38,495.99 L73.59,495.54 L73.80,495.08 L73.99,494.62 L74.19,494.16 L74.38,493.70 L74.56,493.24 L74.74,492.77 L74.91,492.30 L75.08,491.83 L75.24,491.36 L75.41,490.89 L75.57,490.41 L75.72,489.94 L75.88,489.46 L76.03,488.99 L76.18,488.51 L76.33,488.03 L76.48,487.56 L76.63,487.08 L76.77,486.60 L76.92,486.12 L77.07,485.65 L77.22,485.17 L77.37,484.69 L77.52,484.22 L77.67,483.74 L77.83,483.26 L77.98,482.79 L78.13,482.31 L78.29,481.84 L78.45,481.36 L78.60,480.89 L78.76,480.41 L78.92,479.94 L79.08,479.46 L79.23,478.99 L79.39,478.51 L79.55,478.04 L79.71,477.57 L79.87,477.09 L80.03,476.62 L80.19,476.15 L80.35,475.67 L80.51,475.20 L80.68,474.73 L80.84,474.25 L81.00,473.78 L81.16,473.31 L81.33,472.84 L81.49,472.36 L81.66,471.89 L81.82,471.42 L81.99,470.95 L82.15,470.48 L82.32,470.00 L82.48,469.53 L82.65,469.06 L82.82,468.59 L82.99,468.12 L83.15,467.65 L83.32,467.18 L83.49,466.71 L83.66,466.23 L83.83,465.76 L84.00,465.29 L84.17,464.82 L84.34,464.35 L84.51,463.88 L84.68,463.41 L84.85,462.94 L85.02,462.47 L85.19,462.00 L85.37,461.54 L85.54,461.07 L85.72,460.60 L85.89,460.13 L86.07,459.66 L86.25,459.20 L86.43,458.73 L86.61,458.26 L86.79,457.80 L86.97,457.33 L87.16,456.87 L87.34,456.40 L87.53,455.94 L87.71,455.48 L87.90,455.01 L88.09,454.55 L88.29,454.09 L88.48,453.63 L88.67,453.17 L88.87,452.71 L89.07,452.25 L89.26,451.79 L89.46,451.33 L89.67,450.87 L89.87,450.42 L90.07,449.96 L90.28,449.50 L90.49,449.05 L90.70,448.60 L90.91,448.14 L91.12,447.69 L91.34,447.24 L91.56,446.79 L91.78,446.34 L92.01,445.90 L92.23,445.45 L92.46,445.01 L92.69,444.57 L92.93,444.12 L93.17,443.69 L93.41,443.25 L93.65,442.81 L93.89,442.37 L94.14,441.94 L94.39,441.51 L94.64,441.08 L94.90,440.65 L95.15,440.22 L95.41,439.79 L95.67,439.36 L95.94,438.94 L96.20,438.51 L96.46,438.09 L96.73,437.66 L97.00,437.24 L97.27,436.82 L97.54,436.40 L97.81,435.98 L98.08,435.56 L98.36,435.14 L98.63,434.73 L98.91,434.31 L99.19,433.90 L99.47,433.48 L99.75,433.07 L100.03,432.66 L100.31,432.24 L100.60,431.83 L100.89,431.42 L101.17,431.01 L101.46,430.60 L101.75,430.20 L102.04,429.79 L102.33,429.38 L102.62,428.98 L102.91,428.57 L103.21,428.16 L103.50,427.76 L103.79,427.35 L104.09,426.95 L104.38,426.55 L104.68,426.14 L104.97,425.74 L105.27,425.34 L105.57,424.93 L105.86,424.53 L106.16,424.13 L106.46,423.73 L106.76,423.33 L107.06,422.93 L107.36,422.53 L107.67,422.14 L107.97,421.74 L108.28,421.35 L108.59,420.95 L108.90,420.56 L109.21,420.17 L109.53,419.78 L109.84,419.40 L110.16,419.01 L110.48,418.63 L110.80,418.24 L111.12,417.86 L111.45,417.48 L111.78,417.10 L112.11,416.73 L112.44,416.35 L112.77,415.98 L113.10,415.61 L113.44,415.24 L113.77,414.87 L114.11,414.50 L114.45,414.13 L114.79,413.76 L115.13,413.40 L115.47,413.03 L115.82,412.67 L116.16,412.31 L116.51,411.95 L116.85,411.59 L117.20,411.22 L117.55,410.87 L117.89,410.51 L118.24,410.15 L118.59,409.79 L118.94,409.43 L119.29,409.08 L119.65,408.72 L120.00,408.37 L120.35,408.01 L120.71,407.66 L121.06,407.31 L121.42,406.96 L121.77,406.61 L122.13,406.26 L122.49,405.91 L122.85,405.56 L123.21,405.22 L123.57,404.87 L123.94,404.53 L124.30,404.19 L124.67,403.85 L125.04,403.51 L125.41,403.17 L125.78,402.84 L126.15,402.50 L126.52,402.17 L126.90,401.84 L127.27,401.51 L127.65,401.18 L128.03,400.86 L128.41,400.53 L128.79,400.21 L129.17,399.89 L129.56,399.57 L129.94,399.25 L130.33,398.93 L130.71,398.61 L131.10,398.30 L131.49,397.99 L131.88,397.68 L132.28,397.37 L132.67,397.06 L133.07,396.76 L133.47,396.46 L133.87,396.16 L134.27,395.86 L134.67,395.57 L135.08,395.27 L135.49,394.98 L135.90,394.70 L136.31,394.41 L136.72,394.13 L137.14,393.85 L137.55,393.58 L137.97,393.30 L138.39,393.03 L138.81,392.76 L139.23,392.49 L139.65,392.22 L140.08,391.96 L140.50,391.70 L140.93,391.44 L141.36,391.18 L141.78,390.92 L142.21,390.66 L142.65,390.41 L143.08,390.16 L143.51,389.91 L143.94,389.66 L144.38,389.42 L144.82,389.17 L145.25,388.93 L145.69,388.69 L146.13,388.45 L146.57,388.22 L147.01,387.98 L147.46,387.75 L147.90,387.52 L148.35,387.29 L148.79,387.07 L149.24,386.84 L149.69,386.62 L150.14,386.40 L150.58,386.18 L151.03,385.96 L151.49,385.75 L151.94,385.53 L152.39,385.32 L152.84,385.11 L153.30,384.90 L153.75,384.69 L154.21,384.49 L154.66,384.28 L155.12,384.08 L155.58,383.87 L156.03,383.67 L156.49,383.47 L156.95,383.27 L157.41,383.07 L157.87,382.88 L158.33,382.68 L158.79,382.49 L159.25,382.29 L159.71,382.10 L160.17,381.91 L160.64,381.72 L161.10,381.53 L161.56,381.34 L162.03,381.16 L162.49,380.97 L162.96,380.79 L163.42,380.60 L163.89,380.42 L164.35,380.24 L164.82,380.06 L165.29,379.88 L165.75,379.71 L166.22,379.53 L166.69,379.36 L167.16,379.18 L167.63,379.01 L168.10,378.84 L168.57,378.67 L169.04,378.50 L169.51,378.33 L169.98,378.16 L170.45,378.00 L170.92,377.83 L171.40,377.67 L171.87,377.50 L172.34,377.34 L172.81,377.18 L173.29,377.02 L173.76,376.86 L174.24,376.70 L174.71,376.55 L175.19,376.39 L175.66,376.24 L176.14,376.08 L176.61,375.93 L177.09,375.78 L177.57,375.63 L178.04,375.48 L178.52,375.33 L179.00,375.18 L179.48,375.04 L179.96,374.89 L180.43,374.75 L180.91,374.60 L181.39,374.46 L181.87,374.32 L182.35,374.18 L182.83,374.04 L183.31,373.90 L183.79,373.76 L184.27,373.62 L184.75,373.49 L185.24,373.35 L185.72,373.21 L186.20,373.08 L186.68,372.94 L187.16,372.81 L187.64,372.68 L188.12,372.54 L188.61,372.41 L189.09,372.28 L189.57,372.15 L190.05,372.02 L190.54,371.89 L191.02,371.76 L191.50,371.63 L191.99,371.50 L192.47,371.37 L192.95,371.24 L193.44,371.11 L193.92,370.98 L194.40,370.86 L194.89,370.73 L195.37,370.60 L195.85,370.47 L196.34,370.34 L196.82,370.22 L197.30,370.09 L197.79,369.96 L198.27,369.83 L198.75,369.71 L199.24,369.58 L199.72,369.45 L200.20,369.33 L200.69,369.20 L201.17,369.07 L201.65,368.95 L202.14,368.82 L202.62,368.69 L203.11,368.57 L203.59,368.44 L204.07,368.32 L204.56,368.19 L205.04,368.07 L205.53,367.95 L206.01,367.82 L206.50,367.70 L206.98,367.57 L207.47,367.45 L207.95,367.33 L208.44,367.21 L208.92,367.09 L209.41,366.96 L209.89,366.84 L210.38,366.72 L210.86,366.60 L211.35,366.48 L211.83,366.36 L212.32,366.24 L212.80,366.12 L213.29,366.00 L213.77,365.88 L214.26,365.77 L214.75,365.65 L215.23,365.53 L215.72,365.41 L216.20,365.30 L216.69,365.18 L217.18,365.06 L217.66,364.95 L218.15,364.83 L218.64,364.72 L219.12,364.60 L219.61,364.49 L220.09,364.37 L220.58,364.26 L221.07,364.14 L221.56,364.03 L222.04,363.92 L222.53,363.80 L223.02,363.69 L223.50,363.58 L223.99,363.46 L224.48,363.35 L224.96,363.24 L225.45,363.12 L225.94,363.01 L226.43,362.90 L226.91,362.79 L227.40,362.67 L227.89,362.56 L228.38,362.45 L228.86,362.34 L229.35,362.23 L229.84,362.11 L230.32,362.00 L230.81,361.89 L231.30,361.78 L231.79,361.67 L232.27,361.56 L232.76,361.45 L233.25,361.34 L233.74,361.23 L234.23,361.12 L234.71,361.01 L235.20,360.90 L235.69,360.80 L236.18,360.69 L236.67,360.58 L237.16,360.48 L237.64,360.37 L238.13,360.27 L238.62,360.16 L239.11,360.06 L239.60,359.96 L240.09,359.86 L240.58,359.76 L241.07,359.66 L241.56,359.56 L242.05,359.46 L242.54,359.36 L243.03,359.27 L243.52,359.17 L244.01,359.08 L244.51,358.98 L245.00,358.89 L245.49,358.80 L245.98,358.71 L246.47,358.62 L246.96,358.53 L247.46,358.44 L247.95,358.35 L248.44,358.27 L248.93,358.18 L249.43,358.10 L249.92,358.01 L250.41,357.93 L250.90,357.85 L251.40,357.76 L251.89,357.68 L252.38,357.60 L252.88,357.52 L253.37,357.44 L253.86,357.36 L254.36,357.28 L254.85,357.20 L255.35,357.12 L255.84,357.04 L256.33,356.96 L256.83,356.89 L257.32,356.81 L257.82,356.74 L258.31,356.66 L258.80,356.59 L259.30,356.51 L259.79,356.44 L260.29,356.37 L260.78,356.29 L261.28,356.22 L261.77,356.15 L262.27,356.08 L262.76,356.01 L263.26,355.94 L263.75,355.87 L264.25,355.81 L264.74,355.74 L265.24,355.67 L265.74,355.61 L266.23,355.54 L266.73,355.48 L267.22,355.41 L267.72,355.35 L268.22,355.29 L268.71,355.23 L269.21,355.17 L269.70,355.11 L270.20,355.05 L270.70,354.99 L271.19,354.93 L271.69,354.88 L272.19,354.82 L272.68,354.77 L273.18,354.71 L273.68,354.66 L274.18,354.61 L274.67,354.56 L275.17,354.51 L275.67,354.46 L276.17,354.41 L276.66,354.36 L277.16,354.31 L277.66,354.27 L278.16,354.22 L278.65,354.17 L279.15,354.13 L279.65,354.08 L280.15,354.04 L280.65,353.99 L281.14,353.95 L281.64,353.90 L282.14,353.86 L282.64,353.81 L283.14,353.77 L283.63,353.72 L284.13,353.68 L284.63,353.63 L285.13,353.59 L285.63,353.54 L286.12,353.50 L286.62,353.45 L287.12,353.40 L287.62,353.36 L288.12,353.31 L288.61,353.26 L289.11,353.21 L289.61,353.16 L290.10,353.11 L290.60,353.05 L291.10,353.00 L291.60,352.95 L292.09,352.89 L292.59,352.83 L293.09,352.77 L293.58,352.72 L294.08,352.65 L294.58,352.59 L295.07,352.53 L295.57,352.46 L296.06,352.40 L296.56,352.33 L297.05,352.26 L297.55,352.19 L298.04,352.12 L298.54,352.05 L299.03,351.97 L299.53,351.90 L300.02,351.82 L300.51,351.74 L301.01,351.67 L301.50,351.59 L302.00,351.51 L302.49,351.43 L302.98,351.35 L303.48,351.27 L303.97,351.19 L304.46,351.11 L304.96,351.03 L305.45,350.96 L305.95,350.88 L306.44,350.80 L306.93,350.72 L307.43,350.64 L307.92,350.56 L308.41,350.49 L308.91,350.41 L309.40,350.33 L309.90,350.26 L310.39,350.18 L310.89,350.11 L311.38,350.03 L311.87,349.96 L312.37,349.89 L312.86,349.81 L313.36,349.74 L313.85,349.67 L314.35,349.60 L314.84,349.52 L315.34,349.45 L315.83,349.38 L316.33,349.31 L316.82,349.24 L317.32,349.16 L317.81,349.09 L318.31,349.02 L318.80,348.95 L319.30,348.88 L319.79,348.81 L320.29,348.74 L320.78,348.67 L321.28,348.60 L321.77,348.53 L322.27,348.46 L322.76,348.38 L323.26,348.31 L323.75,348.24 L324.25,348.17 L324.74,348.10 L325.24,348.04 L325.73,347.97 L326.22,347.90 L326.72,347.83 L327.21,347.76 L327.69,347.69 L328.17,347.62 L328.65,347.56 L329.11,347.49 L329.56,347.43 L329.98,347.37 L330.39,347.32 L330.76,347.27 L331.11,347.22 L331.41,347.18 L331.68,347.14" fill="none" stroke="#000" stroke-width="1.4" stroke-dasharray="19.5 6.6" stroke-dashoffset="1.9"/>
<path d="M30.50,546.30 L31.76,546.14 L32.06,546.10 L32.40,546.06 L32.78,546.00 L33.18,545.95 L33.61,545.89 L34.06,545.82 L34.52,545.75 L34.99,545.68 L35.47,545.60 L35.96,545.52 L36.44,545.44 L36.93,545.36 L37.42,545.27 L37.91,545.18 L38.40,545.09 L38.89,544.99 L39.38,544.89 L39.87,544.79 L40.36,544.68 L40.85,544.58 L41.34,544.47 L41.82,544.35 L42.31,544.23 L42.79,544.11 L43.28,543.98 L43.76,543.85 L44.24,543.71 L44.72,543.57 L45.19,543.43 L45.67,543.27 L46.14,543.11 L46.61,542.95 L47.08,542.78 L47.54,542.60 L48.00,542.41 L48.46,542.21 L48.91,542.00 L49.36,541.79 L49.80,541.56 L50.24,541.32 L50.67,541.08 L51.09,540.82 L51.51,540.56 L51.93,540.28 L52.33,539.99 L52.74,539.70 L53.13,539.40 L53.52,539.09 L53.91,538.77 L54.28,538.45 L54.66,538.12 L55.02,537.78 L55.38,537.44 L55.74,537.09 L56.09,536.74 L56.44,536.38 L56.78,536.01 L57.11,535.64 L57.44,535.27 L57.76,534.89 L58.08,534.50 L58.39,534.11 L58.70,533.72 L59.00,533.32 L59.30,532.92 L59.59,532.51 L59.87,532.10 L60.15,531.69 L60.43,531.28 L60.70,530.86 L60.97,530.43 L61.23,530.01 L61.49,529.58 L61.74,529.15 L61.99,528.72 L62.24,528.29 L62.49,527.85 L62.73,527.42 L62.97,526.98 L63.21,526.54 L63.45,526.10 L63.69,525.66 L63.92,525.22 L64.15,524.78 L64.38,524.33 L64.61,523.89 L64.84,523.44 L65.07,523.00 L65.29,522.55 L65.52,522.10 L65.74,521.66 L65.96,521.21 L66.18,520.76 L66.39,520.31 L66.61,519.85 L66.82,519.40 L67.03,518.95 L67.24,518.49 L67.44,518.04 L67.65,517.58 L67.85,517.13 L68.06,516.67 L68.26,516.21 L68.47,515.76 L68.67,515.30 L68.87,514.84 L69.08,514.39 L69.28,513.93 L69.49,513.48 L69.69,513.02 L69.90,512.56 L70.11,512.11 L70.32,511.66 L70.53,511.20 L70.74,510.75 L70.95,510.30 L71.17,509.85 L71.39,509.40 L71.60,508.95 L71.82,508.50 L72.04,508.05 L72.26,507.60 L72.48,507.15 L72.70,506.70 L72.92,506.25 L73.14,505.80 L73.36,505.35 L73.58,504.90 L73.80,504.45 L74.02,504.00 L74.23,503.55 L74.45,503.10 L74.66,502.65 L74.88,502.20 L75.09,501.75 L75.30,501.29 L75.51,500.84 L75.71,500.38 L75.92,499.93 L76.12,499.47 L76.32,499.01 L76.52,498.55 L76.72,498.09 L76.91,497.63 L77.11,497.17 L77.30,496.71 L77.49,496.25 L77.68,495.79 L77.87,495.33 L78.06,494.86 L78.25,494.40 L78.44,493.94 L78.63,493.48 L78.82,493.01 L79.01,492.55 L79.19,492.08 L79.38,491.62 L79.56,491.16 L79.75,490.69 L79.93,490.23 L80.12,489.76 L80.30,489.30 L80.48,488.83 L80.66,488.36 L80.84,487.90 L81.01,487.43 L81.19,486.96 L81.36,486.49 L81.54,486.02 L81.71,485.55 L81.88,485.08 L82.06,484.62 L82.23,484.15 L82.40,483.68 L82.57,483.21 L82.74,482.73 L82.91,482.26 L83.07,481.79 L83.24,481.32 L83.41,480.85 L83.58,480.38 L83.75,479.91 L83.91,479.44 L84.08,478.97 L84.25,478.50 L84.41,478.02 L84.58,477.55 L84.75,477.08 L84.92,476.61 L85.08,476.14 L85.25,475.67 L85.42,475.20 L85.59,474.73 L85.76,474.26 L85.93,473.79 L86.10,473.32 L86.27,472.85 L86.44,472.38 L86.61,471.91 L86.78,471.44 L86.96,470.97 L87.13,470.50 L87.30,470.03 L87.47,469.56 L87.65,469.09 L87.82,468.62 L87.99,468.15 L88.17,467.68 L88.34,467.21 L88.51,466.75 L88.68,466.28 L88.86,465.81 L89.03,465.34 L89.20,464.87 L89.38,464.40 L89.55,463.93 L89.72,463.46 L89.90,462.99 L90.08,462.53 L90.25,462.06 L90.43,461.59 L90.61,461.13 L90.79,460.66 L90.97,460.19 L91.16,459.73 L91.34,459.26 L91.53,458.80 L91.72,458.34 L91.91,457.88 L92.10,457.42 L92.30,456.96 L92.50,456.50 L92.70,456.04 L92.91,455.59 L93.12,455.13 L93.33,454.68 L93.54,454.23 L93.76,453.78 L93.98,453.33 L94.20,452.88 L94.43,452.44 L94.66,451.99 L94.89,451.55 L95.12,451.11 L95.35,450.66 L95.59,450.22 L95.83,449.79 L96.07,449.35 L96.32,448.91 L96.56,448.48 L96.81,448.04 L97.06,447.61 L97.31,447.18 L97.56,446.74 L97.81,446.31 L98.07,445.88 L98.32,445.45 L98.58,445.02 L98.83,444.59 L99.09,444.16 L99.35,443.73 L99.61,443.31 L99.87,442.88 L100.13,442.45 L100.39,442.03 L100.66,441.60 L100.92,441.18 L101.19,440.76 L101.45,440.33 L101.72,439.91 L101.99,439.49 L102.26,439.07 L102.54,438.65 L102.81,438.24 L103.09,437.82 L103.36,437.40 L103.64,436.99 L103.92,436.57 L104.21,436.16 L104.49,435.75 L104.77,435.34 L105.06,434.93 L105.35,434.52 L105.64,434.11 L105.93,433.71 L106.22,433.30 L106.51,432.90 L106.81,432.49 L107.11,432.09 L107.40,431.69 L107.70,431.29 L108.00,430.89 L108.31,430.49 L108.61,430.09 L108.91,429.69 L109.22,429.30 L109.53,428.90 L109.83,428.51 L110.14,428.12 L110.45,427.73 L110.77,427.34 L111.08,426.95 L111.39,426.56 L111.71,426.17 L112.03,425.79 L112.35,425.40 L112.67,425.02 L112.99,424.64 L113.31,424.25 L113.64,423.87 L113.96,423.49 L114.29,423.12 L114.62,422.74 L114.95,422.37 L115.28,421.99 L115.62,421.62 L115.95,421.25 L116.28,420.88 L116.62,420.51 L116.96,420.14 L117.30,419.77 L117.64,419.40 L117.98,419.04 L118.33,418.68 L118.67,418.32 L119.02,417.96 L119.37,417.60 L119.72,417.24 L120.07,416.88 L120.42,416.53 L120.77,416.18 L121.13,415.83 L121.49,415.48 L121.85,415.13 L122.21,414.79 L122.58,414.45 L122.95,414.11 L123.32,413.77 L123.69,413.44 L124.06,413.11 L124.44,412.78 L124.82,412.46 L125.20,412.13 L125.58,411.81 L125.97,411.49 L126.35,411.18 L126.74,410.86 L127.13,410.55 L127.52,410.23 L127.91,409.92 L128.30,409.61 L128.70,409.30 L129.09,408.99 L129.48,408.69 L129.88,408.38 L130.27,408.07 L130.67,407.76 L131.06,407.46 L131.46,407.15 L131.85,406.85 L132.25,406.54 L132.64,406.24 L133.04,405.93 L133.44,405.63 L133.83,405.32 L134.23,405.02 L134.63,404.71 L135.03,404.41 L135.42,404.11 L135.82,403.80 L136.22,403.50 L136.61,403.19 L137.01,402.89 L137.41,402.59 L137.80,402.28 L138.20,401.98 L138.60,401.67 L138.99,401.37 L139.39,401.06 L139.79,400.76 L140.19,400.46 L140.59,400.16 L140.98,399.86 L141.38,399.56 L141.79,399.26 L142.19,398.96 L142.59,398.66 L142.99,398.37 L143.39,398.07 L143.80,397.78 L144.20,397.48 L144.61,397.19 L145.02,396.90 L145.42,396.61 L145.83,396.32 L146.24,396.04 L146.65,395.75 L147.07,395.47 L147.48,395.20 L147.90,394.92 L148.32,394.65 L148.74,394.38 L149.17,394.12 L149.59,393.86 L150.02,393.60 L150.45,393.35 L150.88,393.10 L151.32,392.85 L151.75,392.61 L152.19,392.37 L152.63,392.13 L153.07,391.89 L153.51,391.65 L153.95,391.42 L154.40,391.19 L154.84,390.96 L155.28,390.73 L155.73,390.50 L156.18,390.28 L156.62,390.05 L157.07,389.83 L157.52,389.61 L157.97,389.39 L158.42,389.17 L158.87,388.96 L159.32,388.74 L159.77,388.53 L160.23,388.32 L160.68,388.11 L161.14,387.90 L161.59,387.70 L162.05,387.49 L162.50,387.29 L162.96,387.09 L163.42,386.89 L163.88,386.69 L164.34,386.49 L164.80,386.30 L165.26,386.10 L165.72,385.91 L166.18,385.72 L166.65,385.53 L167.11,385.35 L167.58,385.16 L168.04,384.98 L168.51,384.80 L168.97,384.62 L169.44,384.44 L169.91,384.26 L170.38,384.09 L170.84,383.91 L171.31,383.74 L171.78,383.57 L172.25,383.40 L172.73,383.24 L173.20,383.07 L173.67,382.91 L174.14,382.74 L174.62,382.58 L175.09,382.42 L175.56,382.27 L176.04,382.11 L176.51,381.96 L176.99,381.80 L177.47,381.65 L177.94,381.50 L178.42,381.35 L178.90,381.20 L179.38,381.05 L179.85,380.91 L180.33,380.76 L180.81,380.62 L181.29,380.48 L181.77,380.34 L182.25,380.20 L182.73,380.06 L183.21,379.92 L183.69,379.78 L184.17,379.65 L184.66,379.51 L185.14,379.38 L185.62,379.25 L186.10,379.12 L186.58,378.99 L187.07,378.86 L187.55,378.73 L188.03,378.60 L188.52,378.47 L189.00,378.35 L189.48,378.22 L189.97,378.10 L190.45,377.97 L190.94,377.85 L191.42,377.72 L191.91,377.60 L192.39,377.48 L192.88,377.36 L193.36,377.24 L193.85,377.12 L194.33,377.00 L194.82,376.88 L195.30,376.76 L195.79,376.65 L196.28,376.53 L196.76,376.41 L197.25,376.29 L197.74,376.18 L198.22,376.06 L198.71,375.95 L199.19,375.83 L199.68,375.72 L200.17,375.60 L200.65,375.49 L201.14,375.37 L201.63,375.26 L202.12,375.15 L202.60,375.03 L203.09,374.92 L203.58,374.81 L204.06,374.70 L204.55,374.58 L205.04,374.47 L205.53,374.36 L206.01,374.25 L206.50,374.14 L206.99,374.04 L207.48,373.93 L207.97,373.82 L208.46,373.71 L208.94,373.61 L209.43,373.50 L209.92,373.40 L210.41,373.29 L210.90,373.19 L211.39,373.08 L211.88,372.98 L212.37,372.88 L212.86,372.78 L213.35,372.67 L213.84,372.57 L214.33,372.47 L214.82,372.38 L215.31,372.28 L215.80,372.18 L216.29,372.08 L216.78,371.99 L217.27,371.89 L217.76,371.80 L218.25,371.71 L218.74,371.61 L219.23,371.52 L219.73,371.43 L220.22,371.34 L220.71,371.25 L221.20,371.16 L221.69,371.08 L222.19,370.99 L222.68,370.90 L223.17,370.82 L223.66,370.74 L224.16,370.65 L224.65,370.57 L225.14,370.49 L225.64,370.41 L226.13,370.33 L226.63,370.26 L227.12,370.18 L227.61,370.11 L228.11,370.03 L228.60,369.96 L229.10,369.89 L229.59,369.81 L230.09,369.74 L230.58,369.67 L231.08,369.60 L231.57,369.53 L232.07,369.46 L232.56,369.39 L233.06,369.33 L233.55,369.26 L234.05,369.19 L234.55,369.12 L235.04,369.06 L235.54,368.99 L236.03,368.92 L236.53,368.86 L237.02,368.79 L237.52,368.72 L238.01,368.66 L238.51,368.59 L239.00,368.52 L239.50,368.46 L240.00,368.39 L240.49,368.32 L240.99,368.25 L241.48,368.18 L241.98,368.11 L242.47,368.04 L242.97,367.97 L243.46,367.90 L243.96,367.83 L244.45,367.76 L244.95,367.68 L245.44,367.61 L245.93,367.53 L246.43,367.46 L246.92,367.38 L247.42,367.31 L247.91,367.23 L248.40,367.15 L248.90,367.07 L249.39,366.99 L249.89,366.91 L250.38,366.83 L250.87,366.75 L251.36,366.66 L251.86,366.58 L252.35,366.50 L252.84,366.42 L253.34,366.33 L253.83,366.25 L254.32,366.16 L254.82,366.08 L255.31,365.99 L255.80,365.91 L256.29,365.82 L256.79,365.74 L257.28,365.65 L257.77,365.56 L258.26,365.48 L258.76,365.39 L259.25,365.31 L259.74,365.22 L260.23,365.13 L260.73,365.05 L261.22,364.96 L261.71,364.87 L262.20,364.79 L262.70,364.70 L263.19,364.61 L263.68,364.53 L264.17,364.44 L264.67,364.35 L265.16,364.26 L265.65,364.18 L266.14,364.09 L266.63,364.00 L267.13,363.91 L267.62,363.82 L268.11,363.73 L268.60,363.64 L269.09,363.55 L269.59,363.46 L270.08,363.37 L270.57,363.28 L271.06,363.19 L271.55,363.10 L272.04,363.01 L272.54,362.92 L273.03,362.83 L273.52,362.74 L274.01,362.65 L274.50,362.56 L275.00,362.48 L275.49,362.39 L275.98,362.30 L276.47,362.22 L276.97,362.13 L277.46,362.05 L277.95,361.96 L278.45,361.88 L278.94,361.80 L279.43,361.72 L279.93,361.64 L280.42,361.56 L280.91,361.48 L281.41,361.41 L281.90,361.33 L282.40,361.26 L282.89,361.19 L283.39,361.11 L283.88,361.04 L284.38,360.97 L284.87,360.90 L285.37,360.83 L285.86,360.76 L286.36,360.69 L286.85,360.63 L287.35,360.56 L287.84,360.49 L288.34,360.43 L288.83,360.36 L289.33,360.30 L289.83,360.24 L290.32,360.17 L290.82,360.11 L291.31,360.05 L291.81,359.98 L292.31,359.92 L292.80,359.86 L293.30,359.80 L293.79,359.74 L294.29,359.68 L294.79,359.62 L295.28,359.56 L295.78,359.50 L296.28,359.44 L296.77,359.38 L297.27,359.32 L297.77,359.26 L298.26,359.20 L298.76,359.14 L299.26,359.08 L299.75,359.02 L300.25,358.96 L300.74,358.90 L301.24,358.84 L301.74,358.79 L302.23,358.73 L302.73,358.67 L303.23,358.61 L303.72,358.55 L304.22,358.49 L304.72,358.43 L305.21,358.37 L305.71,358.31 L306.21,358.25 L306.70,358.19 L307.20,358.13 L307.70,358.07 L308.19,358.02 L308.69,357.96 L309.18,357.90 L309.68,357.84 L310.18,357.78 L310.67,357.72 L311.17,357.66 L311.67,357.60 L312.16,357.54 L312.66,357.48 L313.16,357.43 L313.65,357.37 L314.15,357.31 L314.65,357.25 L315.14,357.19 L315.64,357.13 L316.14,357.08 L316.63,357.02 L317.13,356.96 L317.63,356.90 L318.12,356.85 L318.62,356.79 L319.12,356.73 L319.61,356.67 L320.11,356.62 L320.61,356.56 L321.10,356.50 L321.60,356.45 L322.10,356.39 L322.59,356.33 L323.09,356.28 L323.59,356.22 L324.08,356.16 L324.58,356.11 L325.08,356.05 L325.57,355.99 L326.07,355.94 L326.56,355.88 L327.05,355.83 L327.54,355.77 L328.02,355.72 L328.50,355.67 L328.96,355.61 L329.41,355.56 L329.84,355.52 L330.25,355.47 L330.62,355.43 L330.97,355.39 L331.27,355.36 L331.54,355.33" fill="none" stroke="#000" stroke-width="1.4" stroke-dasharray="19.5 3.2 10.4 3.2 10.4 9.6" stroke-dashoffset="7.3"/>
<path d="M30.50,546.30 L31.76,546.14 L32.06,546.10 L32.40,546.05 L32.78,546.00 L33.18,545.95 L33.61,545.89 L34.06,545.82 L34.52,545.76 L34.99,545.69 L35.47,545.62 L35.96,545.54 L36.45,545.47 L36.94,545.39 L37.43,545.31 L37.92,545.23 L38.42,545.15 L38.91,545.06 L39.40,544.98 L39.89,544.90 L40.39,544.81 L40.88,544.73 L41.37,544.65 L41.87,544.56 L42.36,544.48 L42.85,544.40 L43.35,544.32 L43.84,544.23 L44.33,544.15 L44.82,544.07 L45.32,543.98 L45.81,543.89 L46.30,543.80 L46.79,543.70 L47.28,543.59 L47.76,543.49 L48.25,543.37 L48.73,543.25 L49.21,543.11 L49.69,542.97 L50.16,542.82 L50.63,542.66 L51.09,542.49 L51.55,542.30 L52.01,542.11 L52.46,541.90 L52.90,541.68 L53.34,541.44 L53.77,541.20 L54.19,540.94 L54.61,540.67 L55.02,540.39 L55.42,540.11 L55.82,539.81 L56.22,539.51 L56.60,539.20 L56.99,538.88 L57.37,538.56 L57.75,538.23 L58.13,537.91 L58.50,537.58 L58.88,537.25 L59.25,536.91 L59.62,536.58 L59.99,536.25 L60.36,535.91 L60.73,535.58 L61.10,535.24 L61.46,534.89 L61.82,534.55 L62.17,534.19 L62.52,533.84 L62.86,533.48 L63.20,533.11 L63.53,532.73 L63.85,532.36 L64.17,531.97 L64.48,531.58 L64.78,531.19 L65.09,530.79 L65.38,530.39 L65.68,529.99 L65.97,529.58 L66.25,529.17 L66.53,528.76 L66.81,528.34 L67.09,527.93 L67.36,527.51 L67.64,527.09 L67.90,526.67 L68.17,526.25 L68.43,525.82 L68.69,525.39 L68.95,524.96 L69.20,524.53 L69.45,524.10 L69.70,523.67 L69.95,523.23 L70.19,522.80 L70.43,522.36 L70.67,521.92 L70.90,521.48 L71.13,521.03 L71.36,520.59 L71.59,520.14 L71.81,519.70 L72.03,519.25 L72.25,518.80 L72.47,518.35 L72.69,517.90 L72.90,517.45 L73.11,516.99 L73.32,516.54 L73.53,516.09 L73.74,515.63 L73.95,515.18 L74.16,514.72 L74.37,514.27 L74.58,513.81 L74.78,513.36 L74.99,512.90 L75.19,512.45 L75.40,511.99 L75.61,511.54 L75.81,511.08 L76.01,510.62 L76.22,510.17 L76.42,509.71 L76.63,509.25 L76.83,508.80 L77.03,508.34 L77.23,507.88 L77.43,507.42 L77.63,506.97 L77.83,506.51 L78.03,506.05 L78.22,505.59 L78.42,505.13 L78.61,504.67 L78.80,504.20 L78.99,503.74 L79.18,503.28 L79.37,502.82 L79.56,502.35 L79.74,501.89 L79.92,501.42 L80.10,500.96 L80.28,500.49 L80.46,500.02 L80.64,499.55 L80.81,499.08 L80.98,498.62 L81.15,498.15 L81.32,497.68 L81.49,497.21 L81.66,496.74 L81.84,496.27 L82.01,495.80 L82.19,495.33 L82.37,494.86 L82.55,494.40 L82.73,493.93 L82.92,493.47 L83.10,493.01 L83.30,492.55 L83.49,492.08 L83.69,491.63 L83.89,491.17 L84.09,490.71 L84.29,490.25 L84.50,489.80 L84.70,489.34 L84.91,488.89 L85.12,488.43 L85.33,487.98 L85.54,487.53 L85.76,487.07 L85.97,486.62 L86.19,486.17 L86.40,485.72 L86.62,485.27 L86.84,484.82 L87.06,484.37 L87.28,483.92 L87.50,483.47 L87.72,483.03 L87.94,482.58 L88.17,482.13 L88.39,481.69 L88.62,481.24 L88.85,480.79 L89.07,480.35 L89.30,479.90 L89.53,479.46 L89.76,479.02 L89.99,478.57 L90.23,478.13 L90.46,477.69 L90.69,477.25 L90.93,476.81 L91.16,476.36 L91.40,475.92 L91.64,475.48 L91.88,475.04 L92.12,474.61 L92.35,474.17 L92.60,473.73 L92.84,473.29 L93.08,472.85 L93.32,472.42 L93.57,471.98 L93.81,471.54 L94.05,471.11 L94.30,470.67 L94.55,470.24 L94.79,469.80 L95.04,469.37 L95.29,468.93 L95.54,468.50 L95.79,468.07 L96.04,467.63 L96.29,467.20 L96.54,466.77 L96.79,466.33 L97.04,465.90 L97.29,465.47 L97.55,465.04 L97.80,464.61 L98.06,464.18 L98.32,463.75 L98.57,463.32 L98.83,462.90 L99.09,462.47 L99.36,462.04 L99.62,461.62 L99.88,461.19 L100.15,460.77 L100.42,460.35 L100.68,459.93 L100.95,459.51 L101.23,459.09 L101.50,458.67 L101.78,458.25 L102.06,457.84 L102.34,457.42 L102.62,457.01 L102.90,456.60 L103.19,456.19 L103.48,455.78 L103.77,455.38 L104.06,454.97 L104.35,454.57 L104.65,454.16 L104.95,453.76 L105.25,453.36 L105.55,452.97 L105.86,452.57 L106.16,452.18 L106.47,451.78 L106.78,451.39 L107.10,451.00 L107.41,450.61 L107.73,450.23 L108.05,449.84 L108.37,449.46 L108.70,449.08 L109.03,448.71 L109.36,448.33 L109.69,447.96 L110.03,447.60 L110.37,447.23 L110.72,446.87 L111.07,446.51 L111.42,446.16 L111.77,445.81 L112.13,445.46 L112.49,445.12 L112.86,444.78 L113.23,444.44 L113.60,444.11 L113.98,443.78 L114.36,443.45 L114.74,443.13 L115.12,442.81 L115.51,442.49 L115.90,442.18 L116.29,441.87 L116.68,441.56 L117.07,441.25 L117.47,440.95 L117.87,440.65 L118.27,440.35 L118.67,440.05 L119.07,439.75 L119.48,439.46 L119.88,439.16 L120.29,438.87 L120.69,438.58 L121.10,438.29 L121.51,438.00 L121.92,437.71 L122.33,437.42 L122.74,437.14 L123.15,436.85 L123.56,436.57 L123.97,436.29 L124.38,436.00 L124.80,435.72 L125.21,435.44 L125.63,435.17 L126.04,434.89 L126.46,434.62 L126.88,434.34 L127.30,434.07 L127.72,433.80 L128.14,433.53 L128.56,433.26 L128.98,432.99 L129.41,432.73 L129.83,432.46 L130.25,432.20 L130.68,431.93 L131.10,431.67 L131.53,431.41 L131.96,431.15 L132.39,430.89 L132.81,430.63 L133.24,430.37 L133.67,430.12 L134.10,429.86 L134.53,429.61 L134.96,429.35 L135.39,429.10 L135.83,428.85 L136.26,428.60 L136.69,428.35 L137.13,428.10 L137.56,427.85 L137.99,427.60 L138.43,427.36 L138.86,427.11 L139.30,426.86 L139.73,426.61 L140.17,426.37 L140.60,426.12 L141.03,425.87 L141.47,425.62 L141.90,425.37 L142.33,425.12 L142.76,424.86 L143.19,424.61 L143.62,424.36 L144.05,424.10 L144.48,423.85 L144.91,423.59 L145.34,423.33 L145.77,423.08 L146.20,422.83 L146.64,422.58 L147.07,422.33 L147.51,422.08 L147.94,421.84 L148.38,421.60 L148.82,421.37 L149.27,421.14 L149.71,420.92 L150.16,420.70 L150.61,420.48 L151.06,420.27 L151.52,420.06 L151.98,419.86 L152.43,419.66 L152.89,419.46 L153.35,419.27 L153.81,419.08 L154.28,418.89 L154.74,418.70 L155.21,418.52 L155.67,418.34 L156.14,418.16 L156.60,417.98 L157.07,417.80 L157.54,417.63 L158.01,417.45 L158.48,417.28 L158.95,417.11 L159.42,416.94 L159.89,416.78 L160.36,416.61 L160.84,416.45 L161.31,416.29 L161.78,416.13 L162.26,415.97 L162.73,415.82 L163.21,415.66 L163.68,415.51 L164.16,415.36 L164.64,415.21 L165.11,415.06 L165.59,414.91 L166.07,414.77 L166.55,414.62 L167.03,414.48 L167.51,414.34 L167.99,414.20 L168.47,414.06 L168.95,413.92 L169.43,413.78 L169.91,413.65 L170.39,413.51 L170.87,413.38 L171.36,413.25 L171.84,413.12 L172.32,412.99 L172.81,412.86 L173.29,412.74 L173.77,412.61 L174.26,412.49 L174.74,412.37 L175.23,412.24 L175.71,412.12 L176.20,412.01 L176.68,411.89 L177.17,411.77 L177.66,411.66 L178.14,411.54 L178.63,411.43 L179.12,411.32 L179.61,411.21 L180.10,411.10 L180.58,410.99 L181.07,410.89 L181.56,410.78 L182.05,410.68 L182.54,410.57 L183.03,410.47 L183.52,410.37 L184.01,410.27 L184.50,410.17 L184.99,410.07 L185.48,409.97 L185.97,409.87 L186.46,409.77 L186.95,409.68 L187.44,409.58 L187.93,409.48 L188.42,409.39 L188.91,409.29 L189.40,409.20 L189.89,409.10 L190.38,409.01 L190.87,408.91 L191.37,408.82 L191.86,408.72 L192.35,408.63 L192.84,408.53 L193.33,408.44 L193.82,408.34 L194.31,408.25 L194.80,408.15 L195.29,408.06 L195.78,407.96 L196.27,407.86 L196.76,407.77 L197.25,407.67 L197.74,407.57 L198.24,407.47 L198.73,407.38 L199.22,407.28 L199.71,407.18 L200.20,407.08 L200.69,406.98 L201.17,406.88 L201.66,406.77 L202.15,406.67 L202.64,406.57 L203.13,406.47 L203.62,406.37 L204.11,406.27 L204.60,406.16 L205.09,406.06 L205.58,405.96 L206.07,405.86 L206.56,405.75 L207.05,405.65 L207.54,405.55 L208.03,405.45 L208.52,405.34 L209.01,405.24 L209.50,405.14 L209.99,405.04 L210.47,404.94 L210.96,404.83 L211.45,404.73 L211.94,404.63 L212.43,404.53 L212.92,404.43 L213.41,404.33 L213.90,404.23 L214.39,404.13 L214.88,404.03 L215.37,403.93 L215.86,403.83 L216.35,403.73 L216.84,403.63 L217.33,403.53 L217.82,403.43 L218.31,403.33 L218.80,403.24 L219.29,403.14 L219.78,403.04 L220.28,402.95 L220.77,402.85 L221.26,402.76 L221.75,402.66 L222.24,402.57 L222.73,402.48 L223.22,402.38 L223.71,402.29 L224.20,402.20 L224.70,402.11 L225.19,402.01 L225.68,401.92 L226.17,401.83 L226.66,401.74 L227.15,401.65 L227.65,401.56 L228.14,401.47 L228.63,401.38 L229.12,401.29 L229.61,401.21 L230.11,401.12 L230.60,401.03 L231.09,400.94 L231.58,400.85 L232.07,400.77 L232.57,400.68 L233.06,400.59 L233.55,400.51 L234.04,400.42 L234.54,400.33 L235.03,400.25 L235.52,400.16 L236.02,400.08 L236.51,399.99 L237.00,399.91 L237.49,399.83 L237.99,399.74 L238.48,399.66 L238.97,399.58 L239.47,399.49 L239.96,399.41 L240.45,399.33 L240.95,399.25 L241.44,399.16 L241.93,399.08 L242.43,399.00 L242.92,398.92 L243.41,398.84 L243.91,398.76 L244.40,398.68 L244.89,398.60 L245.39,398.52 L245.88,398.44 L246.37,398.36 L246.87,398.29 L247.36,398.21 L247.86,398.13 L248.35,398.05 L248.84,397.97 L249.34,397.90 L249.83,397.82 L250.33,397.74 L250.82,397.66 L251.31,397.59 L251.81,397.51 L252.30,397.43 L252.80,397.36 L253.29,397.28 L253.78,397.20 L254.28,397.13 L254.77,397.05 L255.27,396.98 L255.76,396.90 L256.26,396.83 L256.75,396.75 L257.24,396.68 L257.74,396.60 L258.23,396.53 L258.73,396.46 L259.22,396.39 L259.72,396.31 L260.21,396.24 L260.71,396.17 L261.20,396.10 L261.70,396.03 L262.19,395.96 L262.69,395.89 L263.18,395.82 L263.68,395.75 L264.17,395.68 L264.67,395.61 L265.16,395.55 L265.66,395.48 L266.15,395.41 L266.65,395.35 L267.15,395.28 L267.64,395.22 L268.14,395.15 L268.63,395.09 L269.13,395.03 L269.63,394.97 L270.12,394.90 L270.62,394.84 L271.11,394.78 L271.61,394.72 L272.11,394.66 L272.60,394.61 L273.10,394.55 L273.60,394.49 L274.09,394.43 L274.59,394.38 L275.09,394.32 L275.58,394.27 L276.08,394.21 L276.58,394.16 L277.08,394.10 L277.57,394.05 L278.07,393.99 L278.57,393.94 L279.06,393.89 L279.56,393.84 L280.06,393.78 L280.56,393.73 L281.05,393.68 L281.55,393.63 L282.05,393.58 L282.55,393.53 L283.04,393.48 L283.54,393.43 L284.04,393.38 L284.54,393.33 L285.03,393.28 L285.53,393.23 L286.03,393.18 L286.53,393.13 L287.02,393.08 L287.52,393.03 L288.02,392.98 L288.52,392.93 L289.01,392.88 L289.51,392.83 L290.01,392.78 L290.51,392.73 L291.00,392.68 L291.50,392.64 L292.00,392.59 L292.50,392.54 L292.99,392.49 L293.49,392.44 L293.99,392.39 L294.49,392.34 L294.98,392.28 L295.48,392.23 L295.98,392.18 L296.48,392.13 L296.97,392.08 L297.47,392.03 L297.97,391.98 L298.47,391.93 L298.96,391.87 L299.46,391.82 L299.96,391.77 L300.45,391.72 L300.95,391.67 L301.45,391.61 L301.95,391.56 L302.44,391.51 L302.94,391.46 L303.44,391.41 L303.94,391.35 L304.43,391.30 L304.93,391.25 L305.43,391.20 L305.93,391.15 L306.42,391.10 L306.92,391.05 L307.42,391.00 L307.92,390.95 L308.41,390.90 L308.91,390.86 L309.41,390.81 L309.91,390.76 L310.40,390.72 L310.90,390.67 L311.40,390.63 L311.90,390.58 L312.40,390.54 L312.89,390.50 L313.39,390.45 L313.89,390.41 L314.39,390.37 L314.89,390.33 L315.39,390.29 L315.88,390.26 L316.38,390.22 L316.88,390.18 L317.38,390.15 L317.88,390.11 L318.38,390.08 L318.88,390.04 L319.38,390.01 L319.87,389.98 L320.37,389.95 L320.87,389.91 L321.37,389.88 L321.87,389.85 L322.37,389.82 L322.87,389.79 L323.37,389.76 L323.87,389.73 L324.37,389.70 L324.86,389.68 L325.36,389.65 L325.86,389.62 L326.36,389.60 L326.85,389.57 L327.35,389.55 L327.83,389.52 L328.32,389.50 L328.79,389.47 L329.25,389.45 L329.69,389.43 L330.11,389.41 L330.50,389.39 L330.86,389.38 L331.19,389.36 L331.48,389.35" fill="none" stroke="#000" stroke-width="1.4" stroke-dasharray="10 3.3 19.3 10.4" stroke-dashoffset="4.9"/>
<path d="M30.50,546.30 L31.76,546.14 L32.06,546.10 L32.41,546.06 L32.78,546.01 L33.19,545.96 L33.61,545.90 L34.06,545.85 L34.53,545.79 L35.00,545.73 L35.48,545.67 L35.97,545.62 L36.46,545.56 L36.95,545.50 L37.45,545.44 L37.94,545.38 L38.44,545.33 L38.94,545.27 L39.43,545.22 L39.93,545.16 L40.43,545.11 L40.93,545.06 L41.42,545.02 L41.92,544.97 L42.42,544.93 L42.92,544.88 L43.42,544.84 L43.91,544.80 L44.41,544.76 L44.91,544.73 L45.41,544.69 L45.91,544.66 L46.41,544.63 L46.91,544.60 L47.41,544.57 L47.91,544.54 L48.40,544.51 L48.90,544.49 L49.40,544.46 L49.90,544.44 L50.40,544.41 L50.90,544.39 L51.40,544.36 L51.90,544.33 L52.40,544.30 L52.90,544.26 L53.39,544.22 L53.89,544.18 L54.39,544.13 L54.88,544.08 L55.37,544.01 L55.86,543.94 L56.35,543.85 L56.84,543.76 L57.32,543.64 L57.79,543.52 L58.26,543.37 L58.72,543.21 L59.18,543.03 L59.63,542.84 L60.08,542.63 L60.51,542.40 L60.94,542.16 L61.36,541.90 L61.78,541.64 L62.19,541.35 L62.59,541.06 L62.98,540.76 L63.36,540.45 L63.74,540.12 L64.11,539.79 L64.47,539.45 L64.82,539.10 L65.17,538.74 L65.51,538.38 L65.84,538.01 L66.17,537.63 L66.49,537.25 L66.80,536.87 L67.12,536.48 L67.43,536.08 L67.73,535.69 L68.03,535.29 L68.33,534.89 L68.63,534.49 L68.92,534.08 L69.21,533.68 L69.50,533.27 L69.79,532.86 L70.07,532.45 L70.35,532.03 L70.63,531.62 L70.90,531.20 L71.18,530.79 L71.45,530.37 L71.73,529.95 L72.00,529.53 L72.27,529.11 L72.55,528.69 L72.82,528.28 L73.10,527.86 L73.37,527.44 L73.65,527.03 L73.93,526.61 L74.21,526.19 L74.48,525.78 L74.76,525.36 L75.04,524.95 L75.32,524.53 L75.59,524.12 L75.87,523.70 L76.14,523.28 L76.41,522.86 L76.69,522.44 L76.95,522.02 L77.22,521.60 L77.49,521.17 L77.76,520.75 L78.02,520.33 L78.29,519.90 L78.55,519.48 L78.82,519.06 L79.08,518.63 L79.35,518.21 L79.62,517.79 L79.89,517.37 L80.15,516.94 L80.42,516.52 L80.69,516.10 L80.96,515.68 L81.24,515.26 L81.51,514.84 L81.78,514.42 L82.05,514.00 L82.33,513.59 L82.60,513.17 L82.87,512.75 L83.15,512.33 L83.42,511.91 L83.70,511.49 L83.97,511.08 L84.25,510.66 L84.52,510.24 L84.80,509.82 L85.07,509.41 L85.35,508.99 L85.62,508.57 L85.90,508.16 L86.18,507.74 L86.45,507.32 L86.73,506.91 L87.01,506.49 L87.28,506.07 L87.56,505.66 L87.84,505.24 L88.11,504.82 L88.39,504.41 L88.66,503.99 L88.94,503.57 L89.21,503.15 L89.49,502.73 L89.76,502.32 L90.03,501.90 L90.31,501.48 L90.59,501.06 L90.86,500.65 L91.14,500.24 L91.43,499.82 L91.71,499.41 L92.00,499.01 L92.29,498.60 L92.59,498.20 L92.89,497.80 L93.19,497.40 L93.50,497.01 L93.81,496.62 L94.13,496.23 L94.44,495.85 L94.77,495.46 L95.09,495.08 L95.41,494.70 L95.74,494.32 L96.06,493.94 L96.39,493.56 L96.72,493.19 L97.04,492.81 L97.37,492.43 L97.70,492.05 L98.03,491.67 L98.35,491.30 L98.68,490.92 L99.01,490.54 L99.34,490.17 L99.67,489.79 L100.01,489.42 L100.34,489.05 L100.67,488.68 L101.01,488.30 L101.34,487.93 L101.68,487.56 L102.02,487.20 L102.35,486.83 L102.69,486.46 L103.03,486.09 L103.38,485.73 L103.72,485.36 L104.06,485.00 L104.40,484.64 L104.75,484.28 L105.10,483.91 L105.44,483.56 L105.79,483.20 L106.14,482.84 L106.50,482.49 L106.85,482.14 L107.21,481.78 L107.57,481.44 L107.93,481.09 L108.29,480.74 L108.65,480.40 L109.02,480.06 L109.39,479.72 L109.76,479.39 L110.13,479.06 L110.50,478.72 L110.88,478.39 L111.26,478.07 L111.64,477.74 L112.02,477.42 L112.40,477.10 L112.78,476.78 L113.17,476.46 L113.56,476.15 L113.95,475.84 L114.34,475.53 L114.74,475.22 L115.13,474.92 L115.53,474.61 L115.93,474.32 L116.34,474.02 L116.74,473.73 L117.15,473.44 L117.56,473.15 L117.97,472.87 L118.38,472.59 L118.80,472.31 L119.22,472.04 L119.64,471.77 L120.06,471.50 L120.48,471.23 L120.91,470.97 L121.33,470.71 L121.76,470.45 L122.19,470.20 L122.62,469.95 L123.06,469.69 L123.49,469.45 L123.92,469.20 L124.36,468.95 L124.79,468.71 L125.23,468.46 L125.67,468.22 L126.10,467.98 L126.54,467.74 L126.98,467.49 L127.42,467.25 L127.86,467.01 L128.30,466.77 L128.73,466.53 L129.17,466.29 L129.61,466.06 L130.05,465.82 L130.49,465.58 L130.93,465.34 L131.37,465.10 L131.81,464.86 L132.25,464.63 L132.69,464.39 L133.13,464.15 L133.57,463.92 L134.02,463.69 L134.46,463.45 L134.90,463.22 L135.35,462.99 L135.79,462.76 L136.24,462.54 L136.68,462.31 L137.13,462.09 L137.58,461.86 L138.02,461.64 L138.47,461.42 L138.92,461.21 L139.37,460.99 L139.83,460.78 L140.28,460.57 L140.73,460.36 L141.19,460.15 L141.64,459.95 L142.10,459.74 L142.56,459.54 L143.02,459.34 L143.48,459.14 L143.94,458.95 L144.40,458.75 L144.86,458.56 L145.32,458.37 L145.78,458.18 L146.25,458.00 L146.71,457.81 L147.18,457.63 L147.65,457.45 L148.11,457.27 L148.58,457.10 L149.05,456.93 L149.52,456.75 L149.99,456.58 L150.46,456.42 L150.93,456.25 L151.40,456.08 L151.88,455.92 L152.35,455.76 L152.82,455.60 L153.30,455.44 L153.77,455.28 L154.24,455.12 L154.72,454.97 L155.19,454.81 L155.67,454.66 L156.15,454.50 L156.62,454.35 L157.10,454.20 L157.58,454.05 L158.05,453.90 L158.53,453.75 L159.01,453.61 L159.49,453.46 L159.97,453.32 L160.44,453.17 L160.92,453.03 L161.40,452.88 L161.88,452.74 L162.36,452.60 L162.84,452.46 L163.32,452.32 L163.80,452.19 L164.28,452.05 L164.76,451.91 L165.24,451.78 L165.73,451.64 L166.21,451.51 L166.69,451.37 L167.17,451.24 L167.65,451.11 L168.14,450.98 L168.62,450.85 L169.10,450.72 L169.59,450.59 L170.07,450.46 L170.55,450.34 L171.04,450.21 L171.52,450.09 L172.01,449.96 L172.49,449.84 L172.97,449.72 L173.46,449.59 L173.94,449.47 L174.43,449.35 L174.91,449.23 L175.40,449.11 L175.89,448.99 L176.37,448.87 L176.86,448.76 L177.34,448.64 L177.83,448.52 L178.32,448.41 L178.80,448.29 L179.29,448.18 L179.78,448.07 L180.26,447.95 L180.75,447.84 L181.24,447.73 L181.73,447.62 L182.21,447.51 L182.70,447.40 L183.19,447.29 L183.68,447.18 L184.17,447.07 L184.65,446.96 L185.14,446.86 L185.63,446.75 L186.12,446.64 L186.61,446.54 L187.10,446.43 L187.59,446.33 L188.08,446.23 L188.56,446.12 L189.05,446.02 L189.54,445.92 L190.03,445.82 L190.52,445.71 L191.01,445.61 L191.50,445.51 L191.99,445.41 L192.48,445.31 L192.97,445.22 L193.46,445.12 L193.95,445.02 L194.44,444.92 L194.93,444.82 L195.42,444.73 L195.91,444.63 L196.41,444.53 L196.90,444.44 L197.39,444.34 L197.88,444.25 L198.37,444.15 L198.86,444.06 L199.35,443.97 L199.84,443.87 L200.33,443.78 L200.82,443.69 L201.32,443.60 L201.81,443.51 L202.30,443.41 L202.79,443.32 L203.28,443.23 L203.77,443.14 L204.27,443.05 L204.76,442.97 L205.25,442.88 L205.74,442.79 L206.24,442.70 L206.73,442.62 L207.22,442.53 L207.71,442.44 L208.21,442.36 L208.70,442.27 L209.19,442.19 L209.68,442.10 L210.18,442.02 L210.67,441.93 L211.16,441.85 L211.66,441.77 L212.15,441.68 L212.64,441.60 L213.13,441.52 L213.63,441.44 L214.12,441.36 L214.61,441.27 L215.11,441.19 L215.60,441.11 L216.10,441.03 L216.59,440.95 L217.08,440.87 L217.58,440.79 L218.07,440.71 L218.56,440.63 L219.06,440.55 L219.55,440.48 L220.04,440.40 L220.54,440.32 L221.03,440.24 L221.53,440.16 L222.02,440.08 L222.51,440.01 L223.01,439.93 L223.50,439.85 L224.00,439.77 L224.49,439.70 L224.98,439.62 L225.48,439.54 L225.97,439.46 L226.47,439.39 L226.96,439.31 L227.45,439.23 L227.95,439.16 L228.44,439.08 L228.94,439.00 L229.43,438.93 L229.92,438.85 L230.42,438.77 L230.91,438.70 L231.41,438.62 L231.90,438.55 L232.40,438.47 L232.89,438.40 L233.38,438.32 L233.88,438.25 L234.37,438.17 L234.87,438.10 L235.36,438.03 L235.86,437.95 L236.35,437.88 L236.85,437.81 L237.34,437.74 L237.84,437.67 L238.33,437.60 L238.83,437.53 L239.32,437.46 L239.82,437.39 L240.31,437.32 L240.81,437.25 L241.30,437.18 L241.80,437.11 L242.29,437.05 L242.79,436.98 L243.28,436.92 L243.78,436.85 L244.28,436.79 L244.77,436.72 L245.27,436.66 L245.76,436.60 L246.26,436.54 L246.76,436.47 L247.25,436.41 L247.75,436.35 L248.25,436.29 L248.74,436.23 L249.24,436.18 L249.73,436.12 L250.23,436.06 L250.73,436.00 L251.22,435.94 L251.72,435.89 L252.22,435.83 L252.72,435.77 L253.21,435.72 L253.71,435.66 L254.21,435.61 L254.70,435.55 L255.20,435.50 L255.70,435.45 L256.19,435.39 L256.69,435.34 L257.19,435.29 L257.69,435.23 L258.18,435.18 L258.68,435.13 L259.18,435.08 L259.67,435.03 L260.17,434.98 L260.67,434.93 L261.17,434.87 L261.66,434.83 L262.16,434.78 L262.66,434.73 L263.16,434.68 L263.66,434.63 L264.15,434.58 L264.65,434.54 L265.15,434.49 L265.65,434.44 L266.14,434.39 L266.64,434.35 L267.14,434.30 L267.64,434.26 L268.14,434.21 L268.63,434.17 L269.13,434.12 L269.63,434.08 L270.13,434.04 L270.63,433.99 L271.12,433.95 L271.62,433.91 L272.12,433.87 L272.62,433.83 L273.12,433.79 L273.62,433.75 L274.11,433.71 L274.61,433.67 L275.11,433.63 L275.61,433.59 L276.11,433.55 L276.61,433.51 L277.11,433.48 L277.60,433.44 L278.10,433.40 L278.60,433.36 L279.10,433.33 L279.60,433.29 L280.10,433.25 L280.60,433.22 L281.09,433.18 L281.59,433.15 L282.09,433.11 L282.59,433.08 L283.09,433.04 L283.59,433.01 L284.09,432.97 L284.59,432.94 L285.08,432.90 L285.58,432.87 L286.08,432.83 L286.58,432.80 L287.08,432.76 L287.58,432.73 L288.08,432.69 L288.58,432.66 L289.07,432.62 L289.57,432.58 L290.07,432.55 L290.57,432.51 L291.07,432.48 L291.57,432.44 L292.07,432.40 L292.57,432.37 L293.06,432.33 L293.56,432.29 L294.06,432.25 L294.56,432.22 L295.06,432.18 L295.56,432.14 L296.06,432.10 L296.55,432.06 L297.05,432.03 L297.55,431.99 L298.05,431.95 L298.55,431.91 L299.05,431.87 L299.54,431.83 L300.04,431.79 L300.54,431.75 L301.04,431.71 L301.54,431.67 L302.04,431.63 L302.54,431.59 L303.03,431.55 L303.53,431.51 L304.03,431.47 L304.53,431.43 L305.03,431.39 L305.53,431.35 L306.02,431.31 L306.52,431.28 L307.02,431.24 L307.52,431.20 L308.02,431.16 L308.52,431.12 L309.02,431.08 L309.51,431.04 L310.01,431.00 L310.51,430.96 L311.01,430.93 L311.51,430.89 L312.01,430.85 L312.51,430.81 L313.00,430.78 L313.50,430.74 L314.00,430.70 L314.50,430.67 L315.00,430.63 L315.50,430.59 L316.00,430.56 L316.49,430.52 L316.99,430.49 L317.49,430.45 L317.99,430.42 L318.49,430.39 L318.99,430.35 L319.49,430.32 L319.99,430.28 L320.49,430.25 L320.98,430.22 L321.48,430.19 L321.98,430.15 L322.48,430.12 L322.98,430.09 L323.48,430.06 L323.98,430.03 L324.48,429.99 L324.98,429.96 L325.47,429.93 L325.97,429.90 L326.47,429.87 L326.96,429.84 L327.45,429.81 L327.94,429.78 L328.41,429.75 L328.88,429.72 L329.33,429.70 L329.76,429.67 L330.17,429.65 L330.55,429.63 L330.89,429.61 L331.20,429.59 L331.47,429.57" fill="none" stroke="#000" stroke-width="1.4" stroke-dasharray="13.1 3.1 1.7 2.6 1.6 3.1" stroke-dashoffset="15"/>
<line x1="392.5" y1="0.5" x2="683.3" y2="0.5" stroke="#222" stroke-width="1" stroke-linecap="square"/>
<line x1="683.3" y1="0.5" x2="683.3" y2="251.3" stroke="#222" stroke-width="1" stroke-linecap="square"/>
<line x1="392.5" y1="251.3" x2="683.3" y2="251.3" stroke="#222" stroke-width="1" stroke-linecap="square"/>
<line x1="392.5" y1="0.5" x2="392.5" y2="251.3" stroke="#4a4a4a" stroke-width="1" stroke-linecap="square"/>
<line x1="389.2" y1="242.0" x2="392.5" y2="242.0" stroke="#222" stroke-width="1" />
<text transform="translate(385.1 245.5) scale(0.84 1)" font-size="10.0" text-anchor="end" font-weight="normal" fill="#111" >0</text>
<line x1="389.2" y1="191.57" x2="392.5" y2="191.57" stroke="#222" stroke-width="1" />
<text transform="translate(385.1 195.07) scale(0.84 1)" font-size="10.0" text-anchor="end" font-weight="normal" fill="#111" >10</text>
<line x1="389.2" y1="141.14" x2="392.5" y2="141.14" stroke="#222" stroke-width="1" />
<text transform="translate(385.1 144.64) scale(0.84 1)" font-size="10.0" text-anchor="end" font-weight="normal" fill="#111" >20</text>
<line x1="389.2" y1="90.71000000000001" x2="392.5" y2="90.71000000000001" stroke="#222" stroke-width="1" />
<text transform="translate(385.1 94.21000000000001) scale(0.84 1)" font-size="10.0" text-anchor="end" font-weight="normal" fill="#111" >30</text>
<line x1="389.2" y1="40.28" x2="392.5" y2="40.28" stroke="#222" stroke-width="1" />
<text transform="translate(385.1 43.78) scale(0.84 1)" font-size="10.0" text-anchor="end" font-weight="normal" fill="#111" >40</text>
<line x1="400.4" y1="251.3" x2="400.4" y2="255.8" stroke="#333" stroke-width="1" />
<text transform="translate(400.4 270) scale(0.84 1)" font-size="10.0" text-anchor="middle" font-weight="normal" fill="#111" >0</text>
<line x1="455.4" y1="251.3" x2="455.4" y2="255.8" stroke="#333" stroke-width="1" />
<text transform="translate(455.4 270) scale(0.84 1)" font-size="10.0" text-anchor="middle" font-weight="normal" fill="#111" >100</text>
<line x1="510.4" y1="251.3" x2="510.4" y2="255.8" stroke="#333" stroke-width="1" />
<text transform="translate(510.4 270) scale(0.84 1)" font-size="10.0" text-anchor="middle" font-weight="normal" fill="#111" >200</text>
<line x1="565.4" y1="251.3" x2="565.4" y2="255.8" stroke="#333" stroke-width="1" />
<text transform="translate(565.4 270) scale(0.84 1)" font-size="10.0" text-anchor="middle" font-weight="normal" fill="#111" >300</text>
<line x1="620.4" y1="251.3" x2="620.4" y2="255.8" stroke="#333" stroke-width="1" />
<text transform="translate(620.4 270) scale(0.84 1)" font-size="10.0" text-anchor="middle" font-weight="normal" fill="#111" >400</text>
<line x1="675.4" y1="251.3" x2="675.4" y2="255.8" stroke="#333" stroke-width="1" />
<text transform="translate(675.4 270) scale(0.84 1)" font-size="10.0" text-anchor="middle" font-weight="normal" fill="#111" >500</text>
<line x1="392.3" y1="251" x2="683.3" y2="1" stroke="#111" stroke-width="1.1" />
<line x1="400" y1="237.5" x2="400" y2="245.3" stroke="#000" stroke-width="1" />
<line x1="396.4" y1="237.5" x2="403.6" y2="237.5" stroke="#555" stroke-width="1.3" />
<line x1="396.4" y1="245.3" x2="403.6" y2="245.3" stroke="#555" stroke-width="1.3" />
<path d="M400,237.9 C401.8,237.9 402.7,240 402.7,241.5 C402.7,243 401.6,243.9 400,243.9 C398.4,243.9 397.3,243 397.3,241.5 C397.3,240 398.2,237.9 400,237.9 Z" fill="#000"/>
<line x1="427.6" y1="219.3" x2="427.6" y2="227.1" stroke="#000" stroke-width="1" />
<line x1="424.0" y1="219.3" x2="431.20000000000005" y2="219.3" stroke="#555" stroke-width="1.3" />
<line x1="424.0" y1="227.1" x2="431.20000000000005" y2="227.1" stroke="#555" stroke-width="1.3" />
<path d="M427.6,219.70000000000002 C429.40000000000003,219.70000000000002 430.3,221.8 430.3,223.3 C430.3,224.8 429.20000000000005,225.70000000000002 427.6,225.70000000000002 C426.0,225.70000000000002 424.90000000000003,224.8 424.90000000000003,223.3 C424.90000000000003,221.8 425.8,219.70000000000002 427.6,219.70000000000002 Z" fill="#000"/>
<line x1="455.1" y1="193.1" x2="455.1" y2="201.3" stroke="#000" stroke-width="1" />
<line x1="451.5" y1="193.1" x2="458.70000000000005" y2="193.1" stroke="#555" stroke-width="1.3" />
<line x1="451.5" y1="201.3" x2="458.70000000000005" y2="201.3" stroke="#555" stroke-width="1.3" />
<path d="M455.1,193.8 C456.90000000000003,193.8 457.8,195.9 457.8,197.4 C457.8,198.9 456.70000000000005,199.8 455.1,199.8 C453.5,199.8 452.40000000000003,198.9 452.40000000000003,197.4 C452.40000000000003,195.9 453.3,193.8 455.1,193.8 Z" fill="#000"/>
<line x1="537.9" y1="109.6" x2="537.9" y2="118" stroke="#000" stroke-width="1" />
<line x1="534.3" y1="109.6" x2="541.5" y2="109.6" stroke="#555" stroke-width="1.3" />
<line x1="534.3" y1="118" x2="541.5" y2="118" stroke="#555" stroke-width="1.3" />
<path d="M537.9,110.60000000000001 C539.6999999999999,110.60000000000001 540.6,112.7 540.6,114.2 C540.6,115.7 539.5,116.60000000000001 537.9,116.60000000000001 C536.3,116.60000000000001 535.1999999999999,115.7 535.1999999999999,114.2 C535.1999999999999,112.7 536.1,110.60000000000001 537.9,110.60000000000001 Z" fill="#000"/>
<line x1="675.3" y1="10.8" x2="675.3" y2="18.9" stroke="#000" stroke-width="1" />
<line x1="671.6999999999999" y1="10.8" x2="678.9" y2="10.8" stroke="#555" stroke-width="1.3" />
<line x1="671.6999999999999" y1="18.9" x2="678.9" y2="18.9" stroke="#555" stroke-width="1.3" />
<path d="M675.3,11.5 C677.0999999999999,11.5 678.0,13.6 678.0,15.1 C678.0,16.6 676.9,17.5 675.3,17.5 C673.6999999999999,17.5 672.5999999999999,16.6 672.5999999999999,15.1 C672.5999999999999,13.6 673.5,11.5 675.3,11.5 Z" fill="#000"/>
<text x="496.9" y="286.7" font-size="12.9" text-anchor="start" font-weight="normal" fill="#111" textLength="84.5" lengthAdjust="spacingAndGlyphs" >Concentration (µM)</text>
<text x="369.2" y="177.1" font-size="11.5" text-anchor="start" font-weight="normal" fill="#111" textLength="93.6" lengthAdjust="spacingAndGlyphs" transform="rotate(-90 369.2 177.1)" >% Disaggregation</text>
<text x="396.2" y="23.5" font-size="18.2" text-anchor="start" font-weight="bold" fill="#000" textLength="9.6" lengthAdjust="spacingAndGlyphs" >B</text>
<line x1="391.5" y1="307.5" x2="684.5" y2="307.5" stroke="#222" stroke-width="1" stroke-linecap="square"/>
<line x1="684.5" y1="307.5" x2="684.5" y2="560.0" stroke="#222" stroke-width="1" stroke-linecap="square"/>
<line x1="391.5" y1="560.0" x2="684.5" y2="560.0" stroke="#222" stroke-width="1" stroke-linecap="square"/>
<line x1="391.5" y1="307.5" x2="391.5" y2="560.0" stroke="#4a4a4a" stroke-width="1" stroke-linecap="square"/>
<line x1="388.2" y1="549.9" x2="391.5" y2="549.9" stroke="#222" stroke-width="1" />
<text transform="translate(385.1 553.4) scale(0.84 1)" font-size="10.0" text-anchor="end" font-weight="normal" fill="#111" >0</text>
<line x1="388.2" y1="498.29999999999995" x2="391.5" y2="498.29999999999995" stroke="#222" stroke-width="1" />
<text transform="translate(385.1 501.79999999999995) scale(0.84 1)" font-size="10.0" text-anchor="end" font-weight="normal" fill="#111" >10</text>
<line x1="388.2" y1="446.7" x2="391.5" y2="446.7" stroke="#222" stroke-width="1" />
<text transform="translate(385.1 450.2) scale(0.84 1)" font-size="10.0" text-anchor="end" font-weight="normal" fill="#111" >20</text>
<line x1="388.2" y1="395.09999999999997" x2="391.5" y2="395.09999999999997" stroke="#222" stroke-width="1" />
<text transform="translate(385.1 398.59999999999997) scale(0.84 1)" font-size="10.0" text-anchor="end" font-weight="normal" fill="#111" >30</text>
<line x1="388.2" y1="343.5" x2="391.5" y2="343.5" stroke="#222" stroke-width="1" />
<text transform="translate(385.1 347.0) scale(0.84 1)" font-size="10.0" text-anchor="end" font-weight="normal" fill="#111" >40</text>
<line x1="397.3" y1="560.0" x2="397.3" y2="564.5" stroke="#333" stroke-width="1" />
<text transform="translate(397.3 577.4) scale(0.84 1)" font-size="10.0" text-anchor="middle" font-weight="normal" fill="#111" >0</text>
<line x1="453.40000000000003" y1="560.0" x2="453.40000000000003" y2="564.5" stroke="#333" stroke-width="1" />
<text transform="translate(453.40000000000003 577.4) scale(0.84 1)" font-size="10.0" text-anchor="middle" font-weight="normal" fill="#111" >100</text>
<line x1="509.5" y1="560.0" x2="509.5" y2="564.5" stroke="#333" stroke-width="1" />
<text transform="translate(509.5 577.4) scale(0.84 1)" font-size="10.0" text-anchor="middle" font-weight="normal" fill="#111" >200</text>
<line x1="565.6" y1="560.0" x2="565.6" y2="564.5" stroke="#333" stroke-width="1" />
<text transform="translate(565.6 577.4) scale(0.84 1)" font-size="10.0" text-anchor="middle" font-weight="normal" fill="#111" >300</text>
<line x1="621.7" y1="560.0" x2="621.7" y2="564.5" stroke="#333" stroke-width="1" />
<text transform="translate(621.7 577.4) scale(0.84 1)" font-size="10.0" text-anchor="middle" font-weight="normal" fill="#111" >400</text>
<line x1="677.8" y1="560.0" x2="677.8" y2="564.5" stroke="#333" stroke-width="1" />
<text transform="translate(677.8 577.4) scale(0.84 1)" font-size="10.0" text-anchor="middle" font-weight="normal" fill="#111" >500</text>
<line x1="391.6" y1="555.5" x2="681.9" y2="307.5" stroke="#111" stroke-width="1.1" />
<line x1="396.8" y1="545.5" x2="396.8" y2="553.6" stroke="#000" stroke-width="1" />
<line x1="393.2" y1="545.5" x2="400.40000000000003" y2="545.5" stroke="#555" stroke-width="1.3" />
<line x1="393.2" y1="553.6" x2="400.40000000000003" y2="553.6" stroke="#555" stroke-width="1.3" />
<path d="M396.8,545.8 C398.6,545.8 399.5,547.9 399.5,549.4 C399.5,550.9 398.40000000000003,551.8 396.8,551.8 C395.2,551.8 394.1,550.9 394.1,549.4 C394.1,547.9 395.0,545.8 396.8,545.8 Z" fill="#000"/>
<line x1="424.7" y1="526.6" x2="424.7" y2="535" stroke="#000" stroke-width="1" />
<line x1="421.09999999999997" y1="526.6" x2="428.3" y2="526.6" stroke="#555" stroke-width="1.3" />
<line x1="421.09999999999997" y1="535" x2="428.3" y2="535" stroke="#555" stroke-width="1.3" />
<path d="M424.7,527.4 C426.5,527.4 427.4,529.5 427.4,531.0 C427.4,532.5 426.3,533.4 424.7,533.4 C423.09999999999997,533.4 422.0,532.5 422.0,531.0 C422.0,529.5 422.9,527.4 424.7,527.4 Z" fill="#000"/>
<line x1="453" y1="500.1" x2="453" y2="508.4" stroke="#000" stroke-width="1" />
<line x1="449.4" y1="500.1" x2="456.6" y2="500.1" stroke="#555" stroke-width="1.3" />
<line x1="449.4" y1="508.4" x2="456.6" y2="508.4" stroke="#555" stroke-width="1.3" />
<path d="M453,501.09999999999997 C454.8,501.09999999999997 455.7,503.2 455.7,504.7 C455.7,506.2 454.6,507.09999999999997 453,507.09999999999997 C451.4,507.09999999999997 450.3,506.2 450.3,504.7 C450.3,503.2 451.2,501.09999999999997 453,501.09999999999997 Z" fill="#000"/>
<line x1="537.3" y1="414.5" x2="537.3" y2="422.8" stroke="#000" stroke-width="1" />
<line x1="533.6999999999999" y1="414.5" x2="540.9" y2="414.5" stroke="#555" stroke-width="1.3" />
<line x1="533.6999999999999" y1="422.8" x2="540.9" y2="422.8" stroke="#555" stroke-width="1.3" />
<path d="M537.3,415.5 C539.0999999999999,415.5 540.0,417.6 540.0,419.1 C540.0,420.6 538.9,421.5 537.3,421.5 C535.6999999999999,421.5 534.5999999999999,420.6 534.5999999999999,419.1 C534.5999999999999,417.6 535.5,415.5 537.3,415.5 Z" fill="#000"/>
<line x1="677.6" y1="313.1" x2="677.6" y2="321.3" stroke="#000" stroke-width="1" />
<line x1="674.0" y1="313.1" x2="681.2" y2="313.1" stroke="#555" stroke-width="1.3" />
<line x1="674.0" y1="321.3" x2="681.2" y2="321.3" stroke="#555" stroke-width="1.3" />
<path d="M677.6,314.09999999999997 C679.4,314.09999999999997 680.3000000000001,316.2 680.3000000000001,317.7 C680.3000000000001,319.2 679.2,320.09999999999997 677.6,320.09999999999997 C676.0,320.09999999999997 674.9,319.2 674.9,317.7 C674.9,316.2 675.8000000000001,314.09999999999997 677.6,314.09999999999997 Z" fill="#000"/>
<text x="494.5" y="593.3" font-size="13.5" text-anchor="start" font-weight="normal" fill="#111" textLength="84.5" lengthAdjust="spacingAndGlyphs" >Concentration (µM)</text>
<text x="370.1" y="482.3" font-size="11.5" text-anchor="start" font-weight="normal" fill="#111" textLength="93.6" lengthAdjust="spacingAndGlyphs" transform="rotate(-90 370.1 482.3)" >% Disaggregation</text>
<text x="396.2" y="327.0" font-size="18.2" text-anchor="start" font-weight="bold" fill="#000" textLength="9.6" lengthAdjust="spacingAndGlyphs" >D</text>
</svg></body></html>
